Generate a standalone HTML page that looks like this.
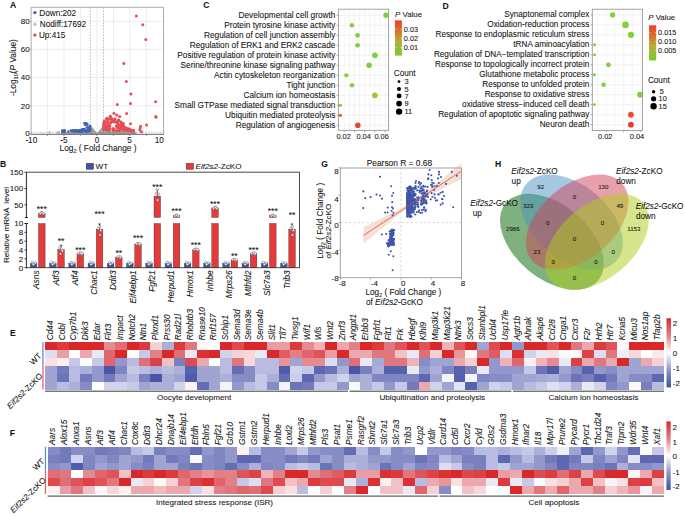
<!DOCTYPE html>
<html><head><meta charset="utf-8"><style>
html,body{margin:0;padding:0;background:#fff;overflow:hidden}
svg{display:block;font-family:"Liberation Sans", sans-serif;}
text{fill:#151515;stroke:#151515;stroke-width:0.08px}
</style></head><body>
<svg width="685" height="516" viewBox="0 0 685 516">
<defs>
<linearGradient id="gC" x1="0" y1="0" x2="0" y2="1"><stop offset="0" stop-color="#ea3f2b"/><stop offset="0.35" stop-color="#d8782e"/><stop offset="0.6" stop-color="#b3b038"/><stop offset="1" stop-color="#79cb2f"/></linearGradient>
<linearGradient id="gD" x1="0" y1="0" x2="0" y2="1"><stop offset="0" stop-color="#ea3f2b"/><stop offset="0.35" stop-color="#d8782e"/><stop offset="0.6" stop-color="#b3b038"/><stop offset="1" stop-color="#79cb2f"/></linearGradient>
<linearGradient id="gH" x1="0" y1="0" x2="0" y2="1"><stop offset="0" stop-color="#da2828"/><stop offset="0.25" stop-color="#e28088"/><stop offset="0.5" stop-color="#ffffff"/><stop offset="0.75" stop-color="#8e94ca"/><stop offset="1" stop-color="#3e50a6"/></linearGradient>
</defs>
<rect width="685" height="516" fill="#fff"/>
<text x="13.2" y="8" font-size="8.6" text-anchor="middle" font-weight="bold" >A</text>
<line x1="47.4" y1="7.3" x2="47.4" y2="134.3" stroke="#e0e0e0" stroke-width="0.6" />
<line x1="63.9" y1="7.3" x2="63.9" y2="134.3" stroke="#e0e0e0" stroke-width="0.6" />
<line x1="80.4" y1="7.3" x2="80.4" y2="134.3" stroke="#e0e0e0" stroke-width="0.6" />
<line x1="96.9" y1="7.3" x2="96.9" y2="134.3" stroke="#e0e0e0" stroke-width="0.6" />
<line x1="113.4" y1="7.3" x2="113.4" y2="134.3" stroke="#e0e0e0" stroke-width="0.6" />
<line x1="129.9" y1="7.3" x2="129.9" y2="134.3" stroke="#e0e0e0" stroke-width="0.6" />
<line x1="146.4" y1="7.3" x2="146.4" y2="134.3" stroke="#e0e0e0" stroke-width="0.6" />
<line x1="31.1" y1="105.75" x2="163.6" y2="105.75" stroke="#e0e0e0" stroke-width="0.6" />
<line x1="31.1" y1="77.6" x2="163.6" y2="77.6" stroke="#e0e0e0" stroke-width="0.6" />
<line x1="31.1" y1="49.45" x2="163.6" y2="49.45" stroke="#e0e0e0" stroke-width="0.6" />
<line x1="31.1" y1="21.3" x2="163.6" y2="21.3" stroke="#e0e0e0" stroke-width="0.6" />
<polygon points="60.5,134.2 61,132.5 75,132.0 84,131.0 88,128.4 91.2,125.8 97,133.0 103.3,125.8 106,128.6 110,130.5 125,130.9 134,131.1 136,132.3 137,134.2" fill="#a3a3a3"/>
<g fill="#c4c4c4"><circle cx="49.5" cy="132.4" r="1.2"/><circle cx="58.2" cy="132.4" r="1.2"/><circle cx="57.2" cy="132.6" r="1.2"/><circle cx="59.2" cy="132.5" r="1.2"/></g>
<line x1="90.3" y1="7.3" x2="90.3" y2="134.3" stroke="#777" stroke-width="0.5" stroke-dasharray="1.6,1.4"/>
<line x1="103.5" y1="7.3" x2="103.5" y2="134.3" stroke="#777" stroke-width="0.5" stroke-dasharray="1.6,1.4"/>
<line x1="31.1" y1="132.4" x2="163.6" y2="132.4" stroke="#888" stroke-width="0.5" stroke-dasharray="1.6,1.4"/>
<g fill="#4264b5"><circle cx="62.5" cy="131.5" r="1.3"/><circle cx="63.5" cy="130.8" r="1.3"/><circle cx="63.0" cy="132.0" r="1.3"/><circle cx="64.3" cy="131.8" r="1.3"/><circle cx="62.2" cy="130.6" r="1.3"/><circle cx="72.9" cy="131.2" r="1.3"/><circle cx="75.2" cy="131.5" r="1.3"/><circle cx="74.5" cy="131.5" r="1.3"/><circle cx="64.9" cy="130.9" r="1.3"/><circle cx="77.2" cy="131.1" r="1.3"/><circle cx="76.7" cy="130.4" r="1.3"/><circle cx="70.8" cy="130.5" r="1.3"/><circle cx="71.8" cy="131.0" r="1.3"/><circle cx="64.7" cy="130.5" r="1.3"/><circle cx="68.3" cy="131.5" r="1.3"/><circle cx="74.8" cy="130.4" r="1.3"/><circle cx="75.3" cy="130.4" r="1.3"/><circle cx="72.8" cy="130.4" r="1.3"/><circle cx="64.5" cy="131.4" r="1.3"/><circle cx="80.6" cy="130.2" r="1.3"/><circle cx="90.1" cy="130.8" r="1.3"/><circle cx="81.6" cy="131.4" r="1.3"/><circle cx="84.6" cy="130.4" r="1.3"/><circle cx="80.5" cy="131.4" r="1.3"/><circle cx="86.5" cy="131.4" r="1.3"/><circle cx="89.0" cy="127.8" r="1.3"/><circle cx="82.4" cy="129.5" r="1.3"/><circle cx="79.8" cy="130.3" r="1.3"/><circle cx="81.7" cy="130.7" r="1.3"/><circle cx="78.0" cy="131.3" r="1.3"/><circle cx="82.2" cy="129.9" r="1.3"/><circle cx="88.1" cy="129.0" r="1.3"/><circle cx="81.9" cy="130.4" r="1.3"/><circle cx="86.7" cy="127.5" r="1.3"/><circle cx="90.0" cy="125.9" r="1.3"/><circle cx="87.2" cy="130.8" r="1.3"/><circle cx="78.2" cy="131.4" r="1.3"/><circle cx="82.5" cy="130.5" r="1.3"/><circle cx="78.1" cy="131.0" r="1.3"/><circle cx="80.2" cy="131.4" r="1.3"/><circle cx="80.4" cy="131.1" r="1.3"/><circle cx="89.4" cy="131.2" r="1.3"/><circle cx="82.2" cy="130.0" r="1.3"/><circle cx="84.5" cy="130.8" r="1.3"/><circle cx="79.3" cy="131.2" r="1.3"/><circle cx="87.8" cy="130.8" r="1.3"/><circle cx="78.5" cy="131.5" r="1.3"/><circle cx="79.1" cy="130.8" r="1.3"/><circle cx="85.5" cy="131.2" r="1.3"/><circle cx="82.2" cy="131.3" r="1.3"/><circle cx="84.7" cy="129.2" r="1.3"/><circle cx="81.9" cy="129.7" r="1.3"/><circle cx="79.0" cy="130.7" r="1.3"/><circle cx="86.5" cy="131.5" r="1.3"/><circle cx="80.0" cy="130.2" r="1.3"/><circle cx="90.1" cy="128.8" r="1.3"/><circle cx="83.0" cy="129.5" r="1.3"/><circle cx="85.3" cy="130.9" r="1.3"/><circle cx="83.6" cy="129.8" r="1.3"/><circle cx="78.7" cy="131.4" r="1.3"/><circle cx="78.4" cy="131.2" r="1.3"/><circle cx="88.3" cy="127.2" r="1.3"/><circle cx="87.0" cy="131.3" r="1.3"/><circle cx="85.8" cy="130.7" r="1.3"/><circle cx="79.3" cy="130.9" r="1.3"/><circle cx="79.8" cy="131.3" r="1.3"/><circle cx="81.6" cy="130.4" r="1.3"/><circle cx="90.3" cy="130.6" r="1.3"/><circle cx="90.0" cy="128.4" r="1.3"/><circle cx="84.0" cy="130.7" r="1.3"/><circle cx="83.9" cy="129.3" r="1.3"/><circle cx="83.0" cy="129.2" r="1.3"/><circle cx="82.6" cy="131.5" r="1.3"/><circle cx="89.8" cy="129.4" r="1.3"/><circle cx="86.0" cy="123.3" r="1.3"/><circle cx="84.4" cy="123.2" r="1.3"/><circle cx="87.1" cy="124.5" r="1.3"/><circle cx="85.4" cy="124.3" r="1.3"/><circle cx="87.1" cy="124.1" r="1.3"/><circle cx="86.7" cy="124.3" r="1.3"/><circle cx="85.5" cy="124.1" r="1.3"/><circle cx="85.1" cy="123.7" r="1.3"/><circle cx="87.1" cy="124.1" r="1.3"/><circle cx="85.2" cy="124.7" r="1.3"/></g>
<g fill="#e44f58"><circle cx="119.6" cy="126.8" r="1.5"/><circle cx="103.8" cy="126.7" r="1.5"/><circle cx="107.6" cy="126.6" r="1.5"/><circle cx="113.3" cy="128.5" r="1.5"/><circle cx="119.5" cy="129.0" r="1.5"/><circle cx="110.0" cy="126.0" r="1.5"/><circle cx="122.9" cy="130.0" r="1.5"/><circle cx="110.1" cy="128.9" r="1.5"/><circle cx="128.3" cy="130.4" r="1.5"/><circle cx="132.9" cy="131.1" r="1.5"/><circle cx="105.8" cy="129.2" r="1.5"/><circle cx="131.2" cy="130.4" r="1.5"/><circle cx="121.2" cy="128.7" r="1.5"/><circle cx="122.6" cy="125.3" r="1.5"/><circle cx="124.6" cy="129.1" r="1.5"/><circle cx="120.2" cy="125.4" r="1.5"/><circle cx="118.7" cy="128.6" r="1.5"/><circle cx="119.1" cy="128.1" r="1.5"/><circle cx="103.9" cy="122.7" r="1.5"/><circle cx="106.9" cy="127.0" r="1.5"/><circle cx="118.9" cy="120.4" r="1.5"/><circle cx="113.6" cy="119.8" r="1.5"/><circle cx="104.2" cy="122.2" r="1.5"/><circle cx="109.2" cy="119.3" r="1.5"/><circle cx="106.4" cy="118.7" r="1.5"/><circle cx="118.3" cy="126.3" r="1.5"/><circle cx="107.3" cy="129.9" r="1.5"/><circle cx="103.8" cy="125.3" r="1.5"/><circle cx="108.2" cy="122.8" r="1.5"/><circle cx="105.0" cy="129.3" r="1.5"/><circle cx="110.7" cy="116.8" r="1.5"/><circle cx="118.3" cy="120.4" r="1.5"/><circle cx="116.0" cy="122.1" r="1.5"/><circle cx="117.2" cy="130.7" r="1.5"/><circle cx="126.2" cy="129.1" r="1.5"/><circle cx="125.9" cy="129.9" r="1.5"/><circle cx="110.6" cy="118.4" r="1.5"/><circle cx="117.7" cy="125.7" r="1.5"/><circle cx="132.1" cy="131.2" r="1.5"/><circle cx="118.1" cy="123.4" r="1.5"/><circle cx="129.3" cy="129.0" r="1.5"/><circle cx="104.9" cy="126.3" r="1.5"/><circle cx="118.4" cy="121.0" r="1.5"/><circle cx="118.9" cy="130.0" r="1.5"/><circle cx="110.8" cy="122.7" r="1.5"/><circle cx="107.1" cy="121.6" r="1.5"/><circle cx="132.8" cy="130.4" r="1.5"/><circle cx="132.3" cy="131.1" r="1.5"/><circle cx="117.7" cy="121.9" r="1.5"/><circle cx="133.1" cy="130.6" r="1.5"/><circle cx="111.9" cy="121.0" r="1.5"/><circle cx="133.3" cy="130.6" r="1.5"/><circle cx="108.4" cy="123.7" r="1.5"/><circle cx="105.1" cy="126.8" r="1.5"/><circle cx="112.7" cy="120.7" r="1.5"/><circle cx="124.7" cy="130.3" r="1.5"/><circle cx="103.8" cy="126.5" r="1.5"/><circle cx="108.1" cy="130.3" r="1.5"/><circle cx="124.7" cy="127.4" r="1.5"/><circle cx="108.0" cy="119.2" r="1.5"/><circle cx="133.5" cy="130.4" r="1.5"/><circle cx="118.1" cy="124.9" r="1.5"/><circle cx="119.4" cy="126.9" r="1.5"/><circle cx="123.2" cy="125.4" r="1.5"/><circle cx="123.8" cy="127.1" r="1.5"/><circle cx="115.6" cy="122.0" r="1.5"/><circle cx="108.7" cy="124.4" r="1.5"/><circle cx="113.4" cy="121.8" r="1.5"/><circle cx="123.2" cy="128.5" r="1.5"/><circle cx="104.0" cy="123.6" r="1.5"/><circle cx="113.1" cy="130.0" r="1.5"/><circle cx="129.1" cy="130.1" r="1.5"/><circle cx="103.9" cy="129.0" r="1.5"/><circle cx="121.8" cy="128.2" r="1.5"/><circle cx="113.9" cy="129.9" r="1.5"/><circle cx="111.0" cy="122.1" r="1.5"/><circle cx="127.5" cy="128.8" r="1.5"/><circle cx="108.7" cy="128.8" r="1.5"/><circle cx="104.3" cy="129.5" r="1.5"/><circle cx="121.3" cy="126.3" r="1.5"/><circle cx="108.4" cy="128.1" r="1.5"/><circle cx="130.0" cy="129.6" r="1.5"/><circle cx="114.4" cy="121.5" r="1.5"/><circle cx="105.6" cy="126.1" r="1.5"/><circle cx="125.9" cy="127.7" r="1.5"/><circle cx="107.1" cy="128.8" r="1.5"/><circle cx="125.1" cy="129.6" r="1.5"/><circle cx="103.9" cy="128.4" r="1.5"/><circle cx="133.0" cy="131.2" r="1.5"/><circle cx="121.5" cy="123.2" r="1.5"/><circle cx="127.1" cy="128.7" r="1.5"/><circle cx="119.5" cy="130.7" r="1.5"/><circle cx="122.0" cy="124.4" r="1.5"/><circle cx="108.6" cy="130.0" r="1.5"/><circle cx="105.5" cy="126.5" r="1.5"/><circle cx="111.8" cy="118.7" r="1.5"/><circle cx="118.6" cy="120.1" r="1.5"/><circle cx="104.9" cy="124.2" r="1.5"/><circle cx="104.4" cy="121.1" r="1.5"/><circle cx="117.0" cy="127.8" r="1.5"/><circle cx="128.7" cy="129.0" r="1.5"/><circle cx="112.4" cy="121.0" r="1.5"/><circle cx="117.8" cy="124.9" r="1.5"/><circle cx="131.3" cy="130.2" r="1.5"/><circle cx="104.2" cy="128.0" r="1.5"/><circle cx="105.6" cy="126.7" r="1.5"/><circle cx="114.7" cy="129.9" r="1.5"/><circle cx="116.3" cy="126.1" r="1.5"/><circle cx="107.9" cy="124.9" r="1.5"/><circle cx="107.7" cy="127.7" r="1.5"/><circle cx="115.0" cy="118.9" r="1.5"/><circle cx="107.2" cy="122.6" r="1.5"/><circle cx="122.9" cy="125.6" r="1.5"/><circle cx="122.0" cy="128.5" r="1.5"/><circle cx="104.6" cy="127.6" r="1.5"/><circle cx="104.6" cy="121.6" r="1.5"/><circle cx="117.6" cy="121.6" r="1.5"/><circle cx="128.6" cy="129.9" r="1.5"/><circle cx="109.4" cy="128.2" r="1.5"/><circle cx="104.0" cy="128.4" r="1.5"/><circle cx="117.3" cy="104.5" r="1.5"/><circle cx="130.5" cy="103.6" r="1.5"/><circle cx="126.6" cy="113.5" r="1.5"/><circle cx="113.9" cy="113.3" r="1.5"/><circle cx="110.2" cy="116.2" r="1.5"/><circle cx="116.6" cy="115.0" r="1.5"/><circle cx="119.7" cy="116.4" r="1.5"/><circle cx="107.3" cy="118.2" r="1.5"/><circle cx="130.5" cy="123.7" r="1.5"/><circle cx="140.5" cy="126.3" r="1.5"/><circle cx="146.6" cy="125.0" r="1.5"/><circle cx="139.8" cy="129.9" r="1.5"/><circle cx="141.6" cy="131.8" r="1.5"/><circle cx="140.2" cy="128.0" r="1.5"/><circle cx="123.4" cy="123.4" r="1.5"/><circle cx="121.2" cy="121.9" r="1.5"/><circle cx="136.4" cy="15.9" r="1.5"/><circle cx="142.8" cy="24.7" r="1.5"/><circle cx="145.8" cy="39.6" r="1.5"/><circle cx="123.8" cy="63.5" r="1.5"/><circle cx="126.3" cy="81.5" r="1.5"/><circle cx="130.9" cy="94.0" r="1.5"/><circle cx="155.6" cy="101.8" r="1.5"/><circle cx="155.9" cy="117.3" r="1.5"/><circle cx="155.9" cy="116.6" r="1.5"/></g>
<line x1="31.1" y1="7.3" x2="163.6" y2="7.3" stroke="#9c9c9c" stroke-width="0.85" />
<line x1="163.6" y1="7.3" x2="163.6" y2="134.3" stroke="#9c9c9c" stroke-width="0.85" />
<line x1="31.1" y1="7.3" x2="31.1" y2="134.3" stroke="#a0a0a0" stroke-width="0.9" />
<line x1="30.6" y1="134.3" x2="164" y2="134.3" stroke="#555" stroke-width="0.9" />
<text x="29.7" y="135.78" font-size="8.0" text-anchor="end" >0</text>
<line x1="29.5" y1="133.9" x2="31.1" y2="133.9" stroke="#999" stroke-width="0.7" />
<text x="29.7" y="108.78" font-size="8.0" text-anchor="end" >20</text>
<line x1="29.5" y1="105.75" x2="31.1" y2="105.75" stroke="#999" stroke-width="0.7" />
<text x="29.7" y="80.28" font-size="8.0" text-anchor="end" >40</text>
<line x1="29.5" y1="77.6" x2="31.1" y2="77.6" stroke="#999" stroke-width="0.7" />
<text x="29.7" y="52.28" font-size="8.0" text-anchor="end" >60</text>
<line x1="29.5" y1="49.45" x2="31.1" y2="49.45" stroke="#999" stroke-width="0.7" />
<text x="29.7" y="24.38" font-size="8.0" text-anchor="end" >80</text>
<line x1="29.5" y1="21.3" x2="31.1" y2="21.3" stroke="#999" stroke-width="0.7" />
<text x="31.3" y="142.75" font-size="8.2" text-anchor="middle" >-10</text>
<text x="64" y="142.75" font-size="8.2" text-anchor="middle" >-5</text>
<text x="97" y="142.75" font-size="8.2" text-anchor="middle" >0</text>
<text x="129.6" y="142.75" font-size="8.2" text-anchor="middle" >5</text>
<text x="159.3" y="142.75" font-size="8.2" text-anchor="middle" >10</text>
<line x1="47.4" y1="134.3" x2="47.4" y2="135.9" stroke="#666" stroke-width="0.7" />
<line x1="63.9" y1="134.3" x2="63.9" y2="135.9" stroke="#666" stroke-width="0.7" />
<line x1="80.4" y1="134.3" x2="80.4" y2="135.9" stroke="#666" stroke-width="0.7" />
<line x1="96.9" y1="134.3" x2="96.9" y2="135.9" stroke="#666" stroke-width="0.7" />
<line x1="113.4" y1="134.3" x2="113.4" y2="135.9" stroke="#666" stroke-width="0.7" />
<line x1="129.9" y1="134.3" x2="129.9" y2="135.9" stroke="#666" stroke-width="0.7" />
<line x1="146.4" y1="134.3" x2="146.4" y2="135.9" stroke="#666" stroke-width="0.7" />
<circle cx="34.9" cy="12.6" r="1.7" fill="#4264b5" />
<text x="39.3" y="15.55" font-size="8.2" >Down:202</text>
<circle cx="34.9" cy="24.2" r="1.7" fill="#c4c4c4" />
<text x="39.8" y="27.15" font-size="8.2" >Nodiff:17692</text>
<circle cx="34.9" cy="35.1" r="1.7" fill="#e44f58" />
<text x="38.9" y="38.45" font-size="8.2" >Up:415</text>
<text x="98.0" y="151.1" font-size="8.3" text-anchor="middle">Log<tspan font-size="5.6" dy="1.8">2</tspan><tspan dy="-1.8"> ( Fold Change )</tspan></text>
<text transform="translate(16.4 67.6) rotate(-90)" font-size="8.3" text-anchor="middle">-Log<tspan font-size="5.6" dy="1.8">10</tspan><tspan dy="-1.8">(</tspan><tspan font-style="italic">P</tspan> Value)</text>
<text x="3.2" y="166.7" font-size="8.6" text-anchor="middle" font-weight="bold" >B</text>
<rect x="86.2" y="163.2" width="7.4" height="6.2" fill="#3f52a8" stroke="#333" stroke-width="0.4"/>
<text x="95.6" y="169.32" font-size="8.1" >WT</text>
<rect x="186.2" y="163.2" width="7.4" height="6.2" fill="#e33a3a" stroke="#333" stroke-width="0.4"/>
<text x="195.6" y="169.3" font-size="8.1"><tspan font-style="italic">Eif2s2</tspan>-ZcKO</text>
<rect x="30.3" y="263.5" width="6.6" height="4.2" fill="#3f52a8" stroke="#2a2a2a" stroke-width="0.35"/>
<line x1="33.6" y1="263.5" x2="33.6" y2="262.3" stroke="#222" stroke-width="0.6" />
<circle cx="32.4" cy="262.4" r="1.15" fill="#fff" stroke="#555" stroke-width="0.45"/>
<circle cx="34.4" cy="263.72" r="1.15" fill="#fff" stroke="#555" stroke-width="0.45"/>
<circle cx="35.4" cy="262.84" r="1.15" fill="#fff" stroke="#555" stroke-width="0.45"/>
<circle cx="33.3" cy="264.38" r="1.15" fill="#fff" stroke="#555" stroke-width="0.45"/>
<rect x="38.5" y="223.5" width="6.6" height="44.2" fill="#e33a3a" stroke="#2a2a2a" stroke-width="0.35"/>
<rect x="38.5" y="213.3" width="6.6" height="4.2" fill="#e33a3a" stroke="#2a2a2a" stroke-width="0.35"/>
<line x1="41.8" y1="213.3" x2="41.8" y2="211.9" stroke="#111" stroke-width="0.7" />
<line x1="40.5" y1="211.9" x2="43.1" y2="211.9" stroke="#111" stroke-width="0.7" />
<circle cx="40.3" cy="213.5" r="1.15" fill="#fff" stroke="#555" stroke-width="0.45"/>
<circle cx="43.1" cy="213.9" r="1.15" fill="#fff" stroke="#555" stroke-width="0.45"/>
<circle cx="42" cy="212.7" r="1.15" fill="#fff" stroke="#555" stroke-width="0.45"/>
<circle cx="43.7" cy="213.6" r="1.15" fill="#fff" stroke="#555" stroke-width="0.45"/>
<text x="41.8" y="211.6" font-size="8.6" text-anchor="middle" >***</text>
<text x="39.4" y="270.4" font-size="8.4" text-anchor="end" font-style="italic" transform="rotate(-90 39.4 270.4)" >Asns</text>
<rect x="49.55" y="263.5" width="6.6" height="4.2" fill="#3f52a8" stroke="#2a2a2a" stroke-width="0.35"/>
<line x1="52.85" y1="263.5" x2="52.85" y2="262.3" stroke="#222" stroke-width="0.6" />
<circle cx="51.65" cy="262.4" r="1.15" fill="#fff" stroke="#555" stroke-width="0.45"/>
<circle cx="53.65" cy="263.72" r="1.15" fill="#fff" stroke="#555" stroke-width="0.45"/>
<circle cx="54.65" cy="262.84" r="1.15" fill="#fff" stroke="#555" stroke-width="0.45"/>
<circle cx="52.55" cy="264.38" r="1.15" fill="#fff" stroke="#555" stroke-width="0.45"/>
<rect x="57.75" y="249.58" width="6.6" height="18.12" fill="#e33a3a" stroke="#2a2a2a" stroke-width="0.35"/>
<line x1="61.05" y1="249.58" x2="61.05" y2="245.28" stroke="#111" stroke-width="0.7" />
<line x1="59.75" y1="245.28" x2="62.35" y2="245.28" stroke="#111" stroke-width="0.7" />
<circle cx="59.75" cy="247.78" r="1.15" fill="#fff" stroke="#555" stroke-width="0.45"/>
<circle cx="62.55" cy="250.98" r="1.15" fill="#fff" stroke="#555" stroke-width="0.45"/>
<circle cx="61.35" cy="249.08" r="1.15" fill="#fff" stroke="#555" stroke-width="0.45"/>
<circle cx="60.55" cy="253.88" r="1.15" fill="#fff" stroke="#555" stroke-width="0.45"/>
<text x="61.05" y="243.5" font-size="8.6" text-anchor="middle" >**</text>
<text x="58.65" y="270.4" font-size="8.4" text-anchor="end" font-style="italic" transform="rotate(-90 58.65 270.4)" >Atf3</text>
<rect x="68.8" y="263.5" width="6.6" height="4.2" fill="#3f52a8" stroke="#2a2a2a" stroke-width="0.35"/>
<line x1="72.1" y1="263.5" x2="72.1" y2="262.3" stroke="#222" stroke-width="0.6" />
<circle cx="70.9" cy="262.4" r="1.15" fill="#fff" stroke="#555" stroke-width="0.45"/>
<circle cx="72.9" cy="263.72" r="1.15" fill="#fff" stroke="#555" stroke-width="0.45"/>
<circle cx="73.9" cy="262.84" r="1.15" fill="#fff" stroke="#555" stroke-width="0.45"/>
<circle cx="71.8" cy="264.38" r="1.15" fill="#fff" stroke="#555" stroke-width="0.45"/>
<rect x="77" y="253.82" width="6.6" height="13.88" fill="#e33a3a" stroke="#2a2a2a" stroke-width="0.35"/>
<line x1="80.3" y1="253.82" x2="80.3" y2="252.32" stroke="#111" stroke-width="0.7" />
<line x1="79" y1="252.32" x2="81.6" y2="252.32" stroke="#111" stroke-width="0.7" />
<circle cx="78.8" cy="253.52" r="1.15" fill="#fff" stroke="#555" stroke-width="0.45"/>
<circle cx="81.6" cy="254.22" r="1.15" fill="#fff" stroke="#555" stroke-width="0.45"/>
<circle cx="80.5" cy="253.02" r="1.15" fill="#fff" stroke="#555" stroke-width="0.45"/>
<circle cx="82.2" cy="253.42" r="1.15" fill="#fff" stroke="#555" stroke-width="0.45"/>
<text x="80.3" y="253.1" font-size="8.6" text-anchor="middle" >***</text>
<text x="77.9" y="270.4" font-size="8.4" text-anchor="end" font-style="italic" transform="rotate(-90 77.9 270.4)" >Atf4</text>
<rect x="88.05" y="263.5" width="6.6" height="4.2" fill="#3f52a8" stroke="#2a2a2a" stroke-width="0.35"/>
<line x1="91.35" y1="263.5" x2="91.35" y2="262.3" stroke="#222" stroke-width="0.6" />
<circle cx="90.15" cy="262.4" r="1.15" fill="#fff" stroke="#555" stroke-width="0.45"/>
<circle cx="92.15" cy="263.72" r="1.15" fill="#fff" stroke="#555" stroke-width="0.45"/>
<circle cx="93.15" cy="262.84" r="1.15" fill="#fff" stroke="#555" stroke-width="0.45"/>
<circle cx="91.05" cy="264.38" r="1.15" fill="#fff" stroke="#555" stroke-width="0.45"/>
<rect x="96.25" y="229.29" width="6.6" height="38.41" fill="#e33a3a" stroke="#2a2a2a" stroke-width="0.35"/>
<line x1="99.55" y1="229.29" x2="99.55" y2="223.99" stroke="#111" stroke-width="0.7" />
<line x1="98.25" y1="223.99" x2="100.85" y2="223.99" stroke="#111" stroke-width="0.7" />
<circle cx="98.35" cy="228.39" r="1.15" fill="#fff" stroke="#555" stroke-width="0.45"/>
<circle cx="100.75" cy="230.39" r="1.15" fill="#fff" stroke="#555" stroke-width="0.45"/>
<circle cx="99.85" cy="226.79" r="1.15" fill="#fff" stroke="#555" stroke-width="0.45"/>
<circle cx="100.05" cy="234.89" r="1.15" fill="#fff" stroke="#555" stroke-width="0.45"/>
<text x="99.55" y="216.9" font-size="8.6" text-anchor="middle" >***</text>
<text x="97.15" y="270.4" font-size="8.4" text-anchor="end" font-style="italic" transform="rotate(-90 97.15 270.4)" >Chac1</text>
<rect x="107.3" y="263.5" width="6.6" height="4.2" fill="#3f52a8" stroke="#2a2a2a" stroke-width="0.35"/>
<line x1="110.6" y1="263.5" x2="110.6" y2="262.3" stroke="#222" stroke-width="0.6" />
<circle cx="109.4" cy="262.4" r="1.15" fill="#fff" stroke="#555" stroke-width="0.45"/>
<circle cx="111.4" cy="263.72" r="1.15" fill="#fff" stroke="#555" stroke-width="0.45"/>
<circle cx="112.4" cy="262.84" r="1.15" fill="#fff" stroke="#555" stroke-width="0.45"/>
<circle cx="110.3" cy="264.38" r="1.15" fill="#fff" stroke="#555" stroke-width="0.45"/>
<rect x="115.5" y="257.4" width="6.6" height="10.3" fill="#e33a3a" stroke="#2a2a2a" stroke-width="0.35"/>
<line x1="118.8" y1="257.4" x2="118.8" y2="256.6" stroke="#111" stroke-width="0.7" />
<line x1="117.5" y1="256.6" x2="120.1" y2="256.6" stroke="#111" stroke-width="0.7" />
<circle cx="117.3" cy="257.1" r="1.15" fill="#fff" stroke="#555" stroke-width="0.45"/>
<circle cx="120.1" cy="257.8" r="1.15" fill="#fff" stroke="#555" stroke-width="0.45"/>
<circle cx="119" cy="256.6" r="1.15" fill="#fff" stroke="#555" stroke-width="0.45"/>
<circle cx="120.7" cy="257" r="1.15" fill="#fff" stroke="#555" stroke-width="0.45"/>
<text x="118.8" y="256.3" font-size="8.6" text-anchor="middle" >**</text>
<text x="116.4" y="270.4" font-size="8.4" text-anchor="end" font-style="italic" transform="rotate(-90 116.4 270.4)" >Ddit3</text>
<rect x="126.55" y="263.5" width="6.6" height="4.2" fill="#3f52a8" stroke="#2a2a2a" stroke-width="0.35"/>
<line x1="129.85" y1="263.5" x2="129.85" y2="262.3" stroke="#222" stroke-width="0.6" />
<circle cx="128.65" cy="262.4" r="1.15" fill="#fff" stroke="#555" stroke-width="0.45"/>
<circle cx="130.65" cy="263.72" r="1.15" fill="#fff" stroke="#555" stroke-width="0.45"/>
<circle cx="131.65" cy="262.84" r="1.15" fill="#fff" stroke="#555" stroke-width="0.45"/>
<circle cx="129.55" cy="264.38" r="1.15" fill="#fff" stroke="#555" stroke-width="0.45"/>
<rect x="134.75" y="244.27" width="6.6" height="23.43" fill="#e33a3a" stroke="#2a2a2a" stroke-width="0.35"/>
<line x1="138.05" y1="244.27" x2="138.05" y2="242.77" stroke="#111" stroke-width="0.7" />
<line x1="136.75" y1="242.77" x2="139.35" y2="242.77" stroke="#111" stroke-width="0.7" />
<circle cx="136.55" cy="243.97" r="1.15" fill="#fff" stroke="#555" stroke-width="0.45"/>
<circle cx="139.35" cy="244.67" r="1.15" fill="#fff" stroke="#555" stroke-width="0.45"/>
<circle cx="138.25" cy="243.47" r="1.15" fill="#fff" stroke="#555" stroke-width="0.45"/>
<circle cx="139.95" cy="243.87" r="1.15" fill="#fff" stroke="#555" stroke-width="0.45"/>
<text x="138.05" y="241.4" font-size="8.6" text-anchor="middle" >***</text>
<text x="135.65" y="270.4" font-size="8.4" text-anchor="end" font-style="italic" transform="rotate(-90 135.65 270.4)" >Eif4ebp1</text>
<rect x="145.8" y="263.5" width="6.6" height="4.2" fill="#3f52a8" stroke="#2a2a2a" stroke-width="0.35"/>
<line x1="149.1" y1="263.5" x2="149.1" y2="262.3" stroke="#222" stroke-width="0.6" />
<circle cx="147.9" cy="262.4" r="1.15" fill="#fff" stroke="#555" stroke-width="0.45"/>
<circle cx="149.9" cy="263.72" r="1.15" fill="#fff" stroke="#555" stroke-width="0.45"/>
<circle cx="150.9" cy="262.84" r="1.15" fill="#fff" stroke="#555" stroke-width="0.45"/>
<circle cx="148.8" cy="264.38" r="1.15" fill="#fff" stroke="#555" stroke-width="0.45"/>
<rect x="154" y="223.5" width="6.6" height="44.2" fill="#e33a3a" stroke="#2a2a2a" stroke-width="0.35"/>
<rect x="154" y="196.21" width="6.6" height="21.29" fill="#e33a3a" stroke="#2a2a2a" stroke-width="0.35"/>
<line x1="157.3" y1="196.21" x2="157.3" y2="189.81" stroke="#111" stroke-width="0.7" />
<line x1="156" y1="189.81" x2="158.6" y2="189.81" stroke="#111" stroke-width="0.7" />
<circle cx="156.1" cy="193.71" r="1.15" fill="#fff" stroke="#555" stroke-width="0.45"/>
<circle cx="158.8" cy="194.21" r="1.15" fill="#fff" stroke="#555" stroke-width="0.45"/>
<circle cx="157.6" cy="200.21" r="1.15" fill="#fff" stroke="#555" stroke-width="0.45"/>
<circle cx="157" cy="189.71" r="1.15" fill="#fff" stroke="#555" stroke-width="0.45"/>
<text x="157.3" y="189.7" font-size="8.6" text-anchor="middle" >***</text>
<text x="154.9" y="270.4" font-size="8.4" text-anchor="end" font-style="italic" transform="rotate(-90 154.9 270.4)" >Fgf21</text>
<rect x="165.05" y="263.5" width="6.6" height="4.2" fill="#3f52a8" stroke="#2a2a2a" stroke-width="0.35"/>
<line x1="168.35" y1="263.5" x2="168.35" y2="262.3" stroke="#222" stroke-width="0.6" />
<circle cx="167.15" cy="262.4" r="1.15" fill="#fff" stroke="#555" stroke-width="0.45"/>
<circle cx="169.15" cy="263.72" r="1.15" fill="#fff" stroke="#555" stroke-width="0.45"/>
<circle cx="170.15" cy="262.84" r="1.15" fill="#fff" stroke="#555" stroke-width="0.45"/>
<circle cx="168.05" cy="264.38" r="1.15" fill="#fff" stroke="#555" stroke-width="0.45"/>
<rect x="173.25" y="223.5" width="6.6" height="44.2" fill="#e33a3a" stroke="#2a2a2a" stroke-width="0.35"/>
<rect x="173.25" y="215.81" width="6.6" height="1.69" fill="#e33a3a" stroke="#2a2a2a" stroke-width="0.35"/>
<line x1="176.55" y1="215.81" x2="176.55" y2="214.41" stroke="#111" stroke-width="0.7" />
<line x1="175.25" y1="214.41" x2="177.85" y2="214.41" stroke="#111" stroke-width="0.7" />
<circle cx="175.05" cy="216.01" r="1.15" fill="#fff" stroke="#555" stroke-width="0.45"/>
<circle cx="177.85" cy="216.41" r="1.15" fill="#fff" stroke="#555" stroke-width="0.45"/>
<circle cx="176.75" cy="215.21" r="1.15" fill="#fff" stroke="#555" stroke-width="0.45"/>
<circle cx="178.45" cy="216.11" r="1.15" fill="#fff" stroke="#555" stroke-width="0.45"/>
<text x="176.55" y="214.1" font-size="8.6" text-anchor="middle" >***</text>
<text x="174.15" y="270.4" font-size="8.4" text-anchor="end" font-style="italic" transform="rotate(-90 174.15 270.4)" >Herpud1</text>
<rect x="184.3" y="263.5" width="6.6" height="4.2" fill="#3f52a8" stroke="#2a2a2a" stroke-width="0.35"/>
<line x1="187.6" y1="263.5" x2="187.6" y2="262.3" stroke="#222" stroke-width="0.6" />
<circle cx="186.4" cy="262.4" r="1.15" fill="#fff" stroke="#555" stroke-width="0.45"/>
<circle cx="188.4" cy="263.72" r="1.15" fill="#fff" stroke="#555" stroke-width="0.45"/>
<circle cx="189.4" cy="262.84" r="1.15" fill="#fff" stroke="#555" stroke-width="0.45"/>
<circle cx="187.3" cy="264.38" r="1.15" fill="#fff" stroke="#555" stroke-width="0.45"/>
<rect x="192.5" y="249.89" width="6.6" height="17.81" fill="#e33a3a" stroke="#2a2a2a" stroke-width="0.35"/>
<line x1="195.8" y1="249.89" x2="195.8" y2="248.39" stroke="#111" stroke-width="0.7" />
<line x1="194.5" y1="248.39" x2="197.1" y2="248.39" stroke="#111" stroke-width="0.7" />
<circle cx="194.3" cy="249.59" r="1.15" fill="#fff" stroke="#555" stroke-width="0.45"/>
<circle cx="197.1" cy="250.29" r="1.15" fill="#fff" stroke="#555" stroke-width="0.45"/>
<circle cx="196" cy="249.09" r="1.15" fill="#fff" stroke="#555" stroke-width="0.45"/>
<circle cx="197.7" cy="249.49" r="1.15" fill="#fff" stroke="#555" stroke-width="0.45"/>
<text x="195.8" y="248.2" font-size="8.6" text-anchor="middle" >***</text>
<text x="193.4" y="270.4" font-size="8.4" text-anchor="end" font-style="italic" transform="rotate(-90 193.4 270.4)" >Hmox1</text>
<rect x="203.55" y="263.5" width="6.6" height="4.2" fill="#3f52a8" stroke="#2a2a2a" stroke-width="0.35"/>
<line x1="206.85" y1="263.5" x2="206.85" y2="262.3" stroke="#222" stroke-width="0.6" />
<circle cx="205.65" cy="262.4" r="1.15" fill="#fff" stroke="#555" stroke-width="0.45"/>
<circle cx="207.65" cy="263.72" r="1.15" fill="#fff" stroke="#555" stroke-width="0.45"/>
<circle cx="208.65" cy="262.84" r="1.15" fill="#fff" stroke="#555" stroke-width="0.45"/>
<circle cx="206.55" cy="264.38" r="1.15" fill="#fff" stroke="#555" stroke-width="0.45"/>
<rect x="211.75" y="223.5" width="6.6" height="44.2" fill="#e33a3a" stroke="#2a2a2a" stroke-width="0.35"/>
<rect x="211.75" y="208.01" width="6.6" height="9.49" fill="#e33a3a" stroke="#2a2a2a" stroke-width="0.35"/>
<line x1="215.05" y1="208.01" x2="215.05" y2="206.61" stroke="#111" stroke-width="0.7" />
<line x1="213.75" y1="206.61" x2="216.35" y2="206.61" stroke="#111" stroke-width="0.7" />
<circle cx="213.55" cy="208.21" r="1.15" fill="#fff" stroke="#555" stroke-width="0.45"/>
<circle cx="216.35" cy="208.61" r="1.15" fill="#fff" stroke="#555" stroke-width="0.45"/>
<circle cx="215.25" cy="207.41" r="1.15" fill="#fff" stroke="#555" stroke-width="0.45"/>
<circle cx="216.95" cy="208.31" r="1.15" fill="#fff" stroke="#555" stroke-width="0.45"/>
<text x="215.05" y="206.5" font-size="8.6" text-anchor="middle" >***</text>
<text x="212.65" y="270.4" font-size="8.4" text-anchor="end" font-style="italic" transform="rotate(-90 212.65 270.4)" >Inhbe</text>
<rect x="222.8" y="263.5" width="6.6" height="4.2" fill="#3f52a8" stroke="#2a2a2a" stroke-width="0.35"/>
<line x1="226.1" y1="263.5" x2="226.1" y2="262.3" stroke="#222" stroke-width="0.6" />
<circle cx="224.9" cy="262.4" r="1.15" fill="#fff" stroke="#555" stroke-width="0.45"/>
<circle cx="226.9" cy="263.72" r="1.15" fill="#fff" stroke="#555" stroke-width="0.45"/>
<circle cx="227.9" cy="262.84" r="1.15" fill="#fff" stroke="#555" stroke-width="0.45"/>
<circle cx="225.8" cy="264.38" r="1.15" fill="#fff" stroke="#555" stroke-width="0.45"/>
<rect x="231" y="260.1" width="6.6" height="7.6" fill="#e33a3a" stroke="#2a2a2a" stroke-width="0.35"/>
<line x1="234.3" y1="260.1" x2="234.3" y2="259.3" stroke="#111" stroke-width="0.7" />
<line x1="233" y1="259.3" x2="235.6" y2="259.3" stroke="#111" stroke-width="0.7" />
<circle cx="232.8" cy="259.8" r="1.15" fill="#fff" stroke="#555" stroke-width="0.45"/>
<circle cx="235.6" cy="260.5" r="1.15" fill="#fff" stroke="#555" stroke-width="0.45"/>
<circle cx="234.5" cy="259.3" r="1.15" fill="#fff" stroke="#555" stroke-width="0.45"/>
<circle cx="236.2" cy="259.7" r="1.15" fill="#fff" stroke="#555" stroke-width="0.45"/>
<text x="234.3" y="259.1" font-size="8.6" text-anchor="middle" >**</text>
<text x="231.9" y="270.4" font-size="8.4" text-anchor="end" font-style="italic" transform="rotate(-90 231.9 270.4)" >Mrps26</text>
<rect x="242.05" y="263.5" width="6.6" height="4.2" fill="#3f52a8" stroke="#2a2a2a" stroke-width="0.35"/>
<line x1="245.35" y1="263.5" x2="245.35" y2="262.3" stroke="#222" stroke-width="0.6" />
<circle cx="244.15" cy="262.4" r="1.15" fill="#fff" stroke="#555" stroke-width="0.45"/>
<circle cx="246.15" cy="263.72" r="1.15" fill="#fff" stroke="#555" stroke-width="0.45"/>
<circle cx="247.15" cy="262.84" r="1.15" fill="#fff" stroke="#555" stroke-width="0.45"/>
<circle cx="245.05" cy="264.38" r="1.15" fill="#fff" stroke="#555" stroke-width="0.45"/>
<rect x="250.25" y="253.82" width="6.6" height="13.88" fill="#e33a3a" stroke="#2a2a2a" stroke-width="0.35"/>
<line x1="253.55" y1="253.82" x2="253.55" y2="252.32" stroke="#111" stroke-width="0.7" />
<line x1="252.25" y1="252.32" x2="254.85" y2="252.32" stroke="#111" stroke-width="0.7" />
<circle cx="252.05" cy="253.52" r="1.15" fill="#fff" stroke="#555" stroke-width="0.45"/>
<circle cx="254.85" cy="254.22" r="1.15" fill="#fff" stroke="#555" stroke-width="0.45"/>
<circle cx="253.75" cy="253.02" r="1.15" fill="#fff" stroke="#555" stroke-width="0.45"/>
<circle cx="255.45" cy="253.42" r="1.15" fill="#fff" stroke="#555" stroke-width="0.45"/>
<text x="253.55" y="253.1" font-size="8.6" text-anchor="middle" >***</text>
<text x="251.15" y="270.4" font-size="8.4" text-anchor="end" font-style="italic" transform="rotate(-90 251.15 270.4)" >Mthfd2</text>
<rect x="261.3" y="263.5" width="6.6" height="4.2" fill="#3f52a8" stroke="#2a2a2a" stroke-width="0.35"/>
<line x1="264.6" y1="263.5" x2="264.6" y2="262.3" stroke="#222" stroke-width="0.6" />
<circle cx="263.4" cy="262.4" r="1.15" fill="#fff" stroke="#555" stroke-width="0.45"/>
<circle cx="265.4" cy="263.72" r="1.15" fill="#fff" stroke="#555" stroke-width="0.45"/>
<circle cx="266.4" cy="262.84" r="1.15" fill="#fff" stroke="#555" stroke-width="0.45"/>
<circle cx="264.3" cy="264.38" r="1.15" fill="#fff" stroke="#555" stroke-width="0.45"/>
<rect x="269.5" y="223.5" width="6.6" height="44.2" fill="#e33a3a" stroke="#2a2a2a" stroke-width="0.35"/>
<rect x="269.5" y="215.81" width="6.6" height="1.69" fill="#e33a3a" stroke="#2a2a2a" stroke-width="0.35"/>
<line x1="272.8" y1="215.81" x2="272.8" y2="214.41" stroke="#111" stroke-width="0.7" />
<line x1="271.5" y1="214.41" x2="274.1" y2="214.41" stroke="#111" stroke-width="0.7" />
<circle cx="271.3" cy="216.01" r="1.15" fill="#fff" stroke="#555" stroke-width="0.45"/>
<circle cx="274.1" cy="216.41" r="1.15" fill="#fff" stroke="#555" stroke-width="0.45"/>
<circle cx="273" cy="215.21" r="1.15" fill="#fff" stroke="#555" stroke-width="0.45"/>
<circle cx="274.7" cy="216.11" r="1.15" fill="#fff" stroke="#555" stroke-width="0.45"/>
<text x="272.8" y="214.3" font-size="8.6" text-anchor="middle" >***</text>
<text x="270.4" y="270.4" font-size="8.4" text-anchor="end" font-style="italic" transform="rotate(-90 270.4 270.4)" >Slc7a3</text>
<rect x="280.55" y="263.5" width="6.6" height="4.2" fill="#3f52a8" stroke="#2a2a2a" stroke-width="0.35"/>
<line x1="283.85" y1="263.5" x2="283.85" y2="262.3" stroke="#222" stroke-width="0.6" />
<circle cx="282.65" cy="262.4" r="1.15" fill="#fff" stroke="#555" stroke-width="0.45"/>
<circle cx="284.65" cy="263.72" r="1.15" fill="#fff" stroke="#555" stroke-width="0.45"/>
<circle cx="285.65" cy="262.84" r="1.15" fill="#fff" stroke="#555" stroke-width="0.45"/>
<circle cx="283.55" cy="264.38" r="1.15" fill="#fff" stroke="#555" stroke-width="0.45"/>
<rect x="288.75" y="229.29" width="6.6" height="38.41" fill="#e33a3a" stroke="#2a2a2a" stroke-width="0.35"/>
<line x1="292.05" y1="229.29" x2="292.05" y2="223.99" stroke="#111" stroke-width="0.7" />
<line x1="290.75" y1="223.99" x2="293.35" y2="223.99" stroke="#111" stroke-width="0.7" />
<circle cx="290.85" cy="228.39" r="1.15" fill="#fff" stroke="#555" stroke-width="0.45"/>
<circle cx="293.25" cy="230.39" r="1.15" fill="#fff" stroke="#555" stroke-width="0.45"/>
<circle cx="292.35" cy="226.79" r="1.15" fill="#fff" stroke="#555" stroke-width="0.45"/>
<circle cx="292.55" cy="234.89" r="1.15" fill="#fff" stroke="#555" stroke-width="0.45"/>
<text x="292.05" y="217.5" font-size="8.6" text-anchor="middle" >**</text>
<text x="289.65" y="270.4" font-size="8.4" text-anchor="end" font-style="italic" transform="rotate(-90 289.65 270.4)" >Trib3</text>
<line x1="26.4" y1="172.2" x2="299.5" y2="172.2" stroke="#333" stroke-width="0.9" />
<line x1="299.5" y1="172.2" x2="299.5" y2="267.7" stroke="#333" stroke-width="0.9" />
<line x1="25.9" y1="267.7" x2="299.95" y2="267.7" stroke="#333" stroke-width="0.9" />
<line x1="26.4" y1="172.2" x2="26.4" y2="217.5" stroke="#111" stroke-width="0.9" />
<line x1="26.4" y1="223.5" x2="26.4" y2="267.7" stroke="#111" stroke-width="0.9" />
<line x1="24.8" y1="217.5" x2="28" y2="217.5" stroke="#111" stroke-width="0.9" />
<line x1="24.8" y1="223.5" x2="28" y2="223.5" stroke="#111" stroke-width="0.9" />
<line x1="24.4" y1="172.2" x2="26.4" y2="172.2" stroke="#111" stroke-width="0.8" />
<text x="23.1" y="175.08" font-size="8" text-anchor="end" >150</text>
<line x1="24.4" y1="188.53" x2="26.4" y2="188.53" stroke="#111" stroke-width="0.8" />
<text x="23.1" y="191.41" font-size="8" text-anchor="end" >100</text>
<line x1="24.4" y1="204.87" x2="26.4" y2="204.87" stroke="#111" stroke-width="0.8" />
<text x="23.1" y="207.75" font-size="8" text-anchor="end" >50</text>
<line x1="24.4" y1="267.7" x2="26.4" y2="267.7" stroke="#111" stroke-width="0.8" />
<text x="23.1" y="270.58" font-size="8" text-anchor="end" >0</text>
<line x1="24.4" y1="258.86" x2="26.4" y2="258.86" stroke="#111" stroke-width="0.8" />
<text x="23.1" y="261.74" font-size="8" text-anchor="end" >2</text>
<line x1="24.4" y1="250.02" x2="26.4" y2="250.02" stroke="#111" stroke-width="0.8" />
<text x="23.1" y="252.9" font-size="8" text-anchor="end" >4</text>
<line x1="24.4" y1="241.18" x2="26.4" y2="241.18" stroke="#111" stroke-width="0.8" />
<text x="23.1" y="244.06" font-size="8" text-anchor="end" >6</text>
<line x1="24.4" y1="232.34" x2="26.4" y2="232.34" stroke="#111" stroke-width="0.8" />
<text x="23.1" y="235.22" font-size="8" text-anchor="end" >8</text>
<line x1="24.4" y1="223.5" x2="26.4" y2="223.5" stroke="#111" stroke-width="0.8" />
<text x="23.1" y="226.38" font-size="8" text-anchor="end" >10</text>
<text x="9.3" y="225" font-size="8.1" text-anchor="middle" transform="rotate(-90 9.3 225)" xml:space="preserve">Relative mRNA  level</text>
<text x="206.3" y="8.4" font-size="8.6" text-anchor="middle" font-weight="bold" >C</text>
<rect x="338.4" y="9.2" width="50.2" height="121.2" fill="#fff" />
<line x1="344.3" y1="9.2" x2="344.3" y2="130.4" stroke="#ebebeb" stroke-width="0.6" />
<line x1="349.4" y1="9.2" x2="349.4" y2="130.4" stroke="#ebebeb" stroke-width="0.6" />
<line x1="354.5" y1="9.2" x2="354.5" y2="130.4" stroke="#ebebeb" stroke-width="0.6" />
<line x1="359.6" y1="9.2" x2="359.6" y2="130.4" stroke="#ebebeb" stroke-width="0.6" />
<line x1="364.7" y1="9.2" x2="364.7" y2="130.4" stroke="#ebebeb" stroke-width="0.6" />
<line x1="369.8" y1="9.2" x2="369.8" y2="130.4" stroke="#ebebeb" stroke-width="0.6" />
<line x1="374.9" y1="9.2" x2="374.9" y2="130.4" stroke="#ebebeb" stroke-width="0.6" />
<line x1="380" y1="9.2" x2="380" y2="130.4" stroke="#ebebeb" stroke-width="0.6" />
<line x1="385.1" y1="9.2" x2="385.1" y2="130.4" stroke="#ebebeb" stroke-width="0.6" />
<line x1="338.4" y1="15.3" x2="388.6" y2="15.3" stroke="#ebebeb" stroke-width="0.7" />
<line x1="338.4" y1="25.3" x2="388.6" y2="25.3" stroke="#ebebeb" stroke-width="0.7" />
<line x1="338.4" y1="35.3" x2="388.6" y2="35.3" stroke="#ebebeb" stroke-width="0.7" />
<line x1="338.4" y1="45.3" x2="388.6" y2="45.3" stroke="#ebebeb" stroke-width="0.7" />
<line x1="338.4" y1="55.3" x2="388.6" y2="55.3" stroke="#ebebeb" stroke-width="0.7" />
<line x1="338.4" y1="65.3" x2="388.6" y2="65.3" stroke="#ebebeb" stroke-width="0.7" />
<line x1="338.4" y1="75.3" x2="388.6" y2="75.3" stroke="#ebebeb" stroke-width="0.7" />
<line x1="338.4" y1="85.3" x2="388.6" y2="85.3" stroke="#ebebeb" stroke-width="0.7" />
<line x1="338.4" y1="95.3" x2="388.6" y2="95.3" stroke="#ebebeb" stroke-width="0.7" />
<line x1="338.4" y1="105.3" x2="388.6" y2="105.3" stroke="#ebebeb" stroke-width="0.7" />
<line x1="338.4" y1="115.3" x2="388.6" y2="115.3" stroke="#ebebeb" stroke-width="0.7" />
<line x1="338.4" y1="125.3" x2="388.6" y2="125.3" stroke="#ebebeb" stroke-width="0.7" />
<circle cx="386" cy="15.3" r="2.7" fill="#83cf3b" />
<circle cx="351.9" cy="25.3" r="2.2" fill="#83cf3b" />
<circle cx="357.6" cy="35.3" r="2.4" fill="#83cf3b" />
<circle cx="357.6" cy="45.3" r="2.4" fill="#83cf3b" />
<circle cx="374.9" cy="55.3" r="2.9" fill="#83cf3b" />
<circle cx="369.1" cy="65.3" r="2.8" fill="#83cf3b" />
<circle cx="346.3" cy="75.3" r="2.1" fill="#83cf3b" />
<circle cx="352" cy="85.3" r="2.3" fill="#83cf3b" />
<circle cx="374.9" cy="95.3" r="2.9" fill="#a6c23c" />
<circle cx="340.4" cy="105.3" r="1.6" fill="#c9a532" />
<circle cx="340.4" cy="115.3" r="1.6" fill="#e8532d" />
<circle cx="357.8" cy="125.3" r="2.8" fill="#e6482f" />
<rect x="338.4" y="9.2" width="50.2" height="121.2" fill="none" stroke="#9a9a9a" stroke-width="0.9"/>
<line x1="336.6" y1="15.3" x2="338.4" y2="15.3" stroke="#888" stroke-width="0.7" />
<text x="335.4" y="18.2" font-size="8.28" text-anchor="end" >Developmental cell growth</text>
<line x1="336.6" y1="25.3" x2="338.4" y2="25.3" stroke="#888" stroke-width="0.7" />
<text x="335.4" y="28.2" font-size="8.28" text-anchor="end" >Protein tyrosine kinase activity</text>
<line x1="336.6" y1="35.3" x2="338.4" y2="35.3" stroke="#888" stroke-width="0.7" />
<text x="335.4" y="38.2" font-size="8.28" text-anchor="end" >Regulation of cell junction assembly</text>
<line x1="336.6" y1="45.3" x2="338.4" y2="45.3" stroke="#888" stroke-width="0.7" />
<text x="335.4" y="48.2" font-size="8.28" text-anchor="end" >Regulation of ERK1 and ERK2 cascade</text>
<line x1="336.6" y1="55.3" x2="338.4" y2="55.3" stroke="#888" stroke-width="0.7" />
<text x="335.4" y="58.2" font-size="8.28" text-anchor="end" >Positive regulation of protein kinase activity</text>
<line x1="336.6" y1="65.3" x2="338.4" y2="65.3" stroke="#888" stroke-width="0.7" />
<text x="335.4" y="68.2" font-size="8.28" text-anchor="end" >Serine/threonine kinase signaling pathway</text>
<line x1="336.6" y1="75.3" x2="338.4" y2="75.3" stroke="#888" stroke-width="0.7" />
<text x="335.4" y="78.2" font-size="8.28" text-anchor="end" >Actin cytoskeleton reorganization</text>
<line x1="336.6" y1="85.3" x2="338.4" y2="85.3" stroke="#888" stroke-width="0.7" />
<text x="335.4" y="88.2" font-size="8.28" text-anchor="end" >Tight junction</text>
<line x1="336.6" y1="95.3" x2="338.4" y2="95.3" stroke="#888" stroke-width="0.7" />
<text x="335.4" y="98.2" font-size="8.28" text-anchor="end" >Calcium ion homeostasis</text>
<line x1="336.6" y1="105.3" x2="338.4" y2="105.3" stroke="#888" stroke-width="0.7" />
<text x="335.4" y="108.2" font-size="8.28" text-anchor="end" >Small GTPase mediated signal transduction</text>
<line x1="336.6" y1="115.3" x2="338.4" y2="115.3" stroke="#888" stroke-width="0.7" />
<text x="335.4" y="118.2" font-size="8.28" text-anchor="end" >Ubiquitin mediated proteolysis</text>
<line x1="336.6" y1="125.3" x2="338.4" y2="125.3" stroke="#888" stroke-width="0.7" />
<text x="335.4" y="128.2" font-size="8.28" text-anchor="end" >Regulation of angiogenesis</text>
<line x1="344.3" y1="130.4" x2="344.3" y2="132.2" stroke="#888" stroke-width="0.7" />
<line x1="354.5" y1="130.4" x2="354.5" y2="132.2" stroke="#888" stroke-width="0.7" />
<line x1="364.7" y1="130.4" x2="364.7" y2="132.2" stroke="#888" stroke-width="0.7" />
<line x1="374.9" y1="130.4" x2="374.9" y2="132.2" stroke="#888" stroke-width="0.7" />
<line x1="385.1" y1="130.4" x2="385.1" y2="132.2" stroke="#888" stroke-width="0.7" />
<text x="343.6" y="138.66" font-size="7.4" text-anchor="middle" >0.02</text>
<text x="363.6" y="138.66" font-size="7.4" text-anchor="middle" >0.04</text>
<text x="381.6" y="138.66" font-size="7.4" text-anchor="middle" >0.06</text>
<rect x="394.9" y="20.4" width="7.0" height="35.2" fill="url(#gC)"/>
<text x="403.8" y="31.83" font-size="7.3" >0.03</text>
<line x1="394.9" y1="29.2" x2="396.2" y2="29.2" stroke="#fff" stroke-width="0.5" />
<line x1="400.6" y1="29.2" x2="401.9" y2="29.2" stroke="#fff" stroke-width="0.5" />
<text x="403.8" y="40.93" font-size="7.3" >0.02</text>
<line x1="394.9" y1="38.3" x2="396.2" y2="38.3" stroke="#fff" stroke-width="0.5" />
<line x1="400.6" y1="38.3" x2="401.9" y2="38.3" stroke="#fff" stroke-width="0.5" />
<text x="403.8" y="50.13" font-size="7.3" >0.01</text>
<line x1="394.9" y1="47.5" x2="396.2" y2="47.5" stroke="#fff" stroke-width="0.5" />
<line x1="400.6" y1="47.5" x2="401.9" y2="47.5" stroke="#fff" stroke-width="0.5" />
<text x="395.0" y="16.9" font-size="7.9"><tspan font-style="italic">P</tspan> Value</text>
<text x="393.8" y="75.75" font-size="8.2" >Count</text>
<circle cx="399" cy="81.6" r="1.35" fill="#000" />
<text x="404.4" y="84.26" font-size="7.4" >3</text>
<circle cx="399" cy="89" r="2" fill="#000" />
<text x="404.4" y="91.66" font-size="7.4" >5</text>
<circle cx="399.1" cy="95.9" r="2.45" fill="#000" />
<text x="404.4" y="98.56" font-size="7.4" >7</text>
<circle cx="399.1" cy="103.6" r="2.85" fill="#000" />
<text x="404.4" y="106.26" font-size="7.4" >9</text>
<circle cx="399.1" cy="111.6" r="3.2" fill="#000" />
<text x="404.4" y="114.26" font-size="7.4" >11</text>
<text x="445.5" y="8.7" font-size="8.6" text-anchor="middle" font-weight="bold" >D</text>
<rect x="592.3" y="9.2" width="50.2" height="121.3" fill="#fff" />
<line x1="597.8" y1="9.2" x2="597.8" y2="130.5" stroke="#ebebeb" stroke-width="0.6" />
<line x1="606.4" y1="9.2" x2="606.4" y2="130.5" stroke="#ebebeb" stroke-width="0.6" />
<line x1="615" y1="9.2" x2="615" y2="130.5" stroke="#ebebeb" stroke-width="0.6" />
<line x1="623.6" y1="9.2" x2="623.6" y2="130.5" stroke="#ebebeb" stroke-width="0.6" />
<line x1="632.2" y1="9.2" x2="632.2" y2="130.5" stroke="#ebebeb" stroke-width="0.6" />
<line x1="640.8" y1="9.2" x2="640.8" y2="130.5" stroke="#ebebeb" stroke-width="0.6" />
<line x1="592.3" y1="14.9" x2="642.5" y2="14.9" stroke="#ebebeb" stroke-width="0.7" />
<line x1="592.3" y1="24.88" x2="642.5" y2="24.88" stroke="#ebebeb" stroke-width="0.7" />
<line x1="592.3" y1="34.86" x2="642.5" y2="34.86" stroke="#ebebeb" stroke-width="0.7" />
<line x1="592.3" y1="44.84" x2="642.5" y2="44.84" stroke="#ebebeb" stroke-width="0.7" />
<line x1="592.3" y1="54.82" x2="642.5" y2="54.82" stroke="#ebebeb" stroke-width="0.7" />
<line x1="592.3" y1="64.8" x2="642.5" y2="64.8" stroke="#ebebeb" stroke-width="0.7" />
<line x1="592.3" y1="74.78" x2="642.5" y2="74.78" stroke="#ebebeb" stroke-width="0.7" />
<line x1="592.3" y1="84.76" x2="642.5" y2="84.76" stroke="#ebebeb" stroke-width="0.7" />
<line x1="592.3" y1="94.74" x2="642.5" y2="94.74" stroke="#ebebeb" stroke-width="0.7" />
<line x1="592.3" y1="104.72" x2="642.5" y2="104.72" stroke="#ebebeb" stroke-width="0.7" />
<line x1="592.3" y1="114.7" x2="642.5" y2="114.7" stroke="#ebebeb" stroke-width="0.7" />
<line x1="592.3" y1="124.68" x2="642.5" y2="124.68" stroke="#ebebeb" stroke-width="0.7" />
<circle cx="612.6" cy="14.9" r="2.6" fill="#83cf3b" />
<circle cx="625.5" cy="24.88" r="3.3" fill="#83cf3b" />
<circle cx="631" cy="34.86" r="3.1" fill="#83cf3b" />
<circle cx="594.6" cy="44.84" r="1.5" fill="#83cf3b" />
<circle cx="594.6" cy="54.82" r="1.5" fill="#83cf3b" />
<circle cx="608.4" cy="64.8" r="2.4" fill="#83cf3b" />
<circle cx="594.4" cy="74.78" r="1.5" fill="#83cf3b" />
<circle cx="603.6" cy="84.76" r="2.2" fill="#83cf3b" />
<circle cx="640" cy="94.74" r="2.9" fill="#83cf3b" />
<circle cx="594.4" cy="104.72" r="1.4" fill="#b3b833" />
<circle cx="630.9" cy="114.7" r="2.9" fill="#e8502d" />
<circle cx="630.9" cy="124.68" r="2.9" fill="#e63b2e" />
<rect x="592.3" y="9.2" width="50.2" height="121.3" fill="none" stroke="#9a9a9a" stroke-width="0.9"/>
<line x1="590.5" y1="14.9" x2="592.3" y2="14.9" stroke="#888" stroke-width="0.7" />
<text x="589.3" y="16.9" font-size="8.2" text-anchor="end" >Synaptonemal complex</text>
<line x1="590.5" y1="24.88" x2="592.3" y2="24.88" stroke="#888" stroke-width="0.7" />
<text x="589.3" y="26.88" font-size="8.2" text-anchor="end" >Oxidation-reduction process</text>
<line x1="590.5" y1="34.86" x2="592.3" y2="34.86" stroke="#888" stroke-width="0.7" />
<text x="589.3" y="36.86" font-size="8.2" text-anchor="end" >Response to endoplasmic reticulum stress</text>
<line x1="590.5" y1="44.84" x2="592.3" y2="44.84" stroke="#888" stroke-width="0.7" />
<text x="589.3" y="46.84" font-size="8.2" text-anchor="end" >tRNA aminoacylation</text>
<line x1="590.5" y1="54.82" x2="592.3" y2="54.82" stroke="#888" stroke-width="0.7" />
<text x="589.3" y="56.82" font-size="8.2" text-anchor="end" >Regulation of DNA−templated transcription</text>
<line x1="590.5" y1="64.8" x2="592.3" y2="64.8" stroke="#888" stroke-width="0.7" />
<text x="589.3" y="66.8" font-size="8.2" text-anchor="end" >Response to topologically incorrect protein</text>
<line x1="590.5" y1="74.78" x2="592.3" y2="74.78" stroke="#888" stroke-width="0.7" />
<text x="589.3" y="76.78" font-size="8.2" text-anchor="end" >Glutathione metabolic process</text>
<line x1="590.5" y1="84.76" x2="592.3" y2="84.76" stroke="#888" stroke-width="0.7" />
<text x="589.3" y="86.76" font-size="8.2" text-anchor="end" >Response to unfolded protein</text>
<line x1="590.5" y1="94.74" x2="592.3" y2="94.74" stroke="#888" stroke-width="0.7" />
<text x="589.3" y="96.74" font-size="8.2" text-anchor="end" >Response to oxidative stress</text>
<line x1="590.5" y1="104.72" x2="592.3" y2="104.72" stroke="#888" stroke-width="0.7" />
<text x="589.3" y="106.72" font-size="8.2" text-anchor="end" >oxidative stress−induced cell death</text>
<line x1="590.5" y1="114.7" x2="592.3" y2="114.7" stroke="#888" stroke-width="0.7" />
<text x="589.3" y="116.7" font-size="8.2" text-anchor="end" >Regulation of apoptotic signaling pathway</text>
<line x1="590.5" y1="124.68" x2="592.3" y2="124.68" stroke="#888" stroke-width="0.7" />
<text x="589.3" y="126.68" font-size="8.2" text-anchor="end" >Neuron death</text>
<line x1="606.4" y1="130.5" x2="606.4" y2="132.3" stroke="#888" stroke-width="0.7" />
<line x1="623.6" y1="130.5" x2="623.6" y2="132.3" stroke="#888" stroke-width="0.7" />
<line x1="640.8" y1="130.5" x2="640.8" y2="132.3" stroke="#888" stroke-width="0.7" />
<text x="605.3" y="138.76" font-size="7.4" text-anchor="middle" >0.02</text>
<text x="637" y="138.76" font-size="7.4" text-anchor="middle" >0.04</text>
<rect x="649.0" y="25.3" width="7.2" height="35.2" fill="url(#gD)"/>
<text x="658.1" y="35.33" font-size="7.3" >0.015</text>
<line x1="649" y1="32.7" x2="650.3" y2="32.7" stroke="#fff" stroke-width="0.5" />
<line x1="654.9" y1="32.7" x2="656.2" y2="32.7" stroke="#fff" stroke-width="0.5" />
<text x="658.1" y="44.03" font-size="7.3" >0.010</text>
<line x1="649" y1="41.4" x2="650.3" y2="41.4" stroke="#fff" stroke-width="0.5" />
<line x1="654.9" y1="41.4" x2="656.2" y2="41.4" stroke="#fff" stroke-width="0.5" />
<text x="658.1" y="53.23" font-size="7.3" >0.005</text>
<line x1="649" y1="50.6" x2="650.3" y2="50.6" stroke="#fff" stroke-width="0.5" />
<line x1="654.9" y1="50.6" x2="656.2" y2="50.6" stroke="#fff" stroke-width="0.5" />
<text x="648.2" y="19.8" font-size="7.9"><tspan font-style="italic">P</tspan> Value</text>
<text x="647.9" y="82.75" font-size="8.2" >Count</text>
<circle cx="653.6" cy="91.8" r="1.7" fill="#000" />
<text x="659.8" y="94.46" font-size="7.4" >5</text>
<circle cx="653.6" cy="98.8" r="2.6" fill="#000" />
<text x="658.6" y="101.46" font-size="7.4" >10</text>
<circle cx="653.6" cy="106.2" r="3.2" fill="#000" />
<text x="658.6" y="108.86" font-size="7.4" >15</text>
<text x="324.7" y="166.5" font-size="8.6" text-anchor="middle" font-weight="bold" >G</text>
<rect x="340.3" y="168" width="121.2" height="109.7" fill="#fff" />
<line x1="400.9" y1="168" x2="400.9" y2="277.7" stroke="#c8c8c8" stroke-width="0.7" stroke-dasharray="2.2,2.2"/>
<line x1="340.3" y1="222.6" x2="461.5" y2="222.6" stroke="#c8c8c8" stroke-width="0.7" stroke-dasharray="2.2,2.2"/>
<polygon points="363.5,227.3 365.9,226.1 368.4,224.9 370.9,223.6 373.3,222.4 375.8,221.2 378.2,219.9 380.6,218.7 383.1,217.5 385.6,216.2 388.0,215.0 390.4,213.7 392.9,212.5 395.4,211.2 397.8,209.9 400.2,208.7 402.7,207.3 405.1,206.0 407.6,204.6 410.1,203.1 412.5,201.6 414.9,200.0 417.4,198.2 419.9,196.4 422.3,194.6 424.8,192.7 427.2,190.8 429.6,188.8 432.1,186.9 434.6,184.9 437.0,182.9 439.4,181.0 441.9,179.0 444.4,177.0 446.8,175.0 449.2,173.0 451.7,171.1 454.1,169.1 456.6,167.1 459.1,165.1 461.5,163.1 461.5,178.9 459.1,180.2 456.6,181.4 454.1,182.6 451.7,183.8 449.2,185.1 446.8,186.3 444.4,187.5 441.9,188.8 439.4,190.0 437.0,191.3 434.6,192.5 432.1,193.8 429.6,195.0 427.2,196.3 424.8,197.6 422.3,198.9 419.9,200.3 417.4,201.7 414.9,203.2 412.5,204.8 410.1,206.5 407.6,208.2 405.1,210.1 402.7,211.9 400.2,213.8 397.8,215.8 395.4,217.7 392.9,219.7 390.4,221.6 388.0,223.6 385.6,225.6 383.1,227.6 380.6,229.5 378.2,231.5 375.8,233.5 373.3,235.5 370.9,237.5 368.4,239.5 365.9,241.5 363.5,243.5" fill="#f3d6c8" fill-opacity="0.75"/>
<g fill="#3f56aa"><circle cx="407.2" cy="205.5" r="1.05"/><circle cx="411.9" cy="199.7" r="1.05"/><circle cx="407.2" cy="202.6" r="1.05"/><circle cx="410.6" cy="210.1" r="1.05"/><circle cx="407.2" cy="194.6" r="1.05"/><circle cx="411.2" cy="206.1" r="1.05"/><circle cx="413.2" cy="209.4" r="1.05"/><circle cx="409.3" cy="201.2" r="1.05"/><circle cx="415.7" cy="201.1" r="1.05"/><circle cx="407.6" cy="195.6" r="1.05"/><circle cx="409.7" cy="203.9" r="1.05"/><circle cx="408.7" cy="202.6" r="1.05"/><circle cx="410.2" cy="207.5" r="1.05"/><circle cx="412.1" cy="204.4" r="1.05"/><circle cx="407.2" cy="207.6" r="1.05"/><circle cx="407.2" cy="201.9" r="1.05"/><circle cx="407.2" cy="203.0" r="1.05"/><circle cx="407.6" cy="204.4" r="1.05"/><circle cx="417.4" cy="202.7" r="1.05"/><circle cx="411.5" cy="194.4" r="1.05"/><circle cx="408.8" cy="207.3" r="1.05"/><circle cx="409.3" cy="205.4" r="1.05"/><circle cx="409.7" cy="196.5" r="1.05"/><circle cx="410.9" cy="197.7" r="1.05"/><circle cx="414.0" cy="199.7" r="1.05"/><circle cx="411.1" cy="203.0" r="1.05"/><circle cx="411.8" cy="199.1" r="1.05"/><circle cx="411.9" cy="202.2" r="1.05"/><circle cx="412.5" cy="207.1" r="1.05"/><circle cx="409.8" cy="197.9" r="1.05"/><circle cx="411.3" cy="206.0" r="1.05"/><circle cx="413.4" cy="200.5" r="1.05"/><circle cx="410.8" cy="206.3" r="1.05"/><circle cx="410.2" cy="204.4" r="1.05"/><circle cx="409.9" cy="199.1" r="1.05"/><circle cx="407.2" cy="200.4" r="1.05"/><circle cx="410.9" cy="212.8" r="1.05"/><circle cx="411.8" cy="209.8" r="1.05"/><circle cx="411.4" cy="207.5" r="1.05"/><circle cx="409.9" cy="208.0" r="1.05"/><circle cx="413.8" cy="200.9" r="1.05"/><circle cx="407.8" cy="215.7" r="1.05"/><circle cx="410.1" cy="209.3" r="1.05"/><circle cx="411.6" cy="195.6" r="1.05"/><circle cx="415.3" cy="214.5" r="1.05"/><circle cx="409.9" cy="207.9" r="1.05"/><circle cx="409.8" cy="197.3" r="1.05"/><circle cx="409.2" cy="205.4" r="1.05"/><circle cx="412.2" cy="207.6" r="1.05"/><circle cx="409.6" cy="211.8" r="1.05"/><circle cx="407.7" cy="208.2" r="1.05"/><circle cx="412.2" cy="201.1" r="1.05"/><circle cx="407.2" cy="197.1" r="1.05"/><circle cx="410.1" cy="206.4" r="1.05"/><circle cx="413.2" cy="196.5" r="1.05"/><circle cx="409.5" cy="207.2" r="1.05"/><circle cx="409.1" cy="188.0" r="1.05"/><circle cx="411.4" cy="216.5" r="1.05"/><circle cx="411.9" cy="197.0" r="1.05"/><circle cx="408.5" cy="204.4" r="1.05"/><circle cx="415.5" cy="207.0" r="1.05"/><circle cx="409.8" cy="213.1" r="1.05"/><circle cx="409.3" cy="215.1" r="1.05"/><circle cx="407.9" cy="199.9" r="1.05"/><circle cx="411.2" cy="212.3" r="1.05"/><circle cx="411.1" cy="205.0" r="1.05"/><circle cx="407.2" cy="198.4" r="1.05"/><circle cx="408.0" cy="199.5" r="1.05"/><circle cx="410.9" cy="200.8" r="1.05"/><circle cx="411.4" cy="203.5" r="1.05"/><circle cx="408.7" cy="203.8" r="1.05"/><circle cx="410.5" cy="208.6" r="1.05"/><circle cx="408.4" cy="201.5" r="1.05"/><circle cx="407.2" cy="213.4" r="1.05"/><circle cx="413.0" cy="201.8" r="1.05"/><circle cx="408.4" cy="195.0" r="1.05"/><circle cx="409.9" cy="204.3" r="1.05"/><circle cx="414.7" cy="204.6" r="1.05"/><circle cx="407.6" cy="188.0" r="1.05"/><circle cx="412.9" cy="204.2" r="1.05"/><circle cx="407.2" cy="204.2" r="1.05"/><circle cx="407.2" cy="216.5" r="1.05"/><circle cx="412.2" cy="206.7" r="1.05"/><circle cx="409.1" cy="189.1" r="1.05"/><circle cx="409.2" cy="192.9" r="1.05"/><circle cx="410.9" cy="189.1" r="1.05"/><circle cx="407.3" cy="210.9" r="1.05"/><circle cx="413.4" cy="195.3" r="1.05"/><circle cx="407.2" cy="208.7" r="1.05"/><circle cx="411.5" cy="196.6" r="1.05"/><circle cx="407.8" cy="198.5" r="1.05"/><circle cx="407.2" cy="198.6" r="1.05"/><circle cx="412.5" cy="207.5" r="1.05"/><circle cx="414.4" cy="202.4" r="1.05"/><circle cx="409.2" cy="196.6" r="1.05"/><circle cx="409.2" cy="194.5" r="1.05"/><circle cx="407.2" cy="207.5" r="1.05"/><circle cx="413.0" cy="208.4" r="1.05"/><circle cx="412.7" cy="204.6" r="1.05"/><circle cx="407.8" cy="203.6" r="1.05"/><circle cx="408.6" cy="195.8" r="1.05"/><circle cx="407.2" cy="193.4" r="1.05"/><circle cx="409.5" cy="204.0" r="1.05"/><circle cx="408.4" cy="212.3" r="1.05"/><circle cx="409.9" cy="206.8" r="1.05"/><circle cx="412.4" cy="197.7" r="1.05"/><circle cx="407.2" cy="207.9" r="1.05"/><circle cx="407.8" cy="211.5" r="1.05"/><circle cx="410.3" cy="209.5" r="1.05"/><circle cx="411.3" cy="189.5" r="1.05"/><circle cx="411.2" cy="198.6" r="1.05"/><circle cx="407.7" cy="200.2" r="1.05"/><circle cx="411.3" cy="208.7" r="1.05"/><circle cx="411.9" cy="192.2" r="1.05"/><circle cx="408.1" cy="188.0" r="1.05"/><circle cx="409.3" cy="206.9" r="1.05"/><circle cx="407.7" cy="204.6" r="1.05"/><circle cx="410.1" cy="209.5" r="1.05"/><circle cx="407.5" cy="197.6" r="1.05"/><circle cx="407.7" cy="214.4" r="1.05"/><circle cx="412.1" cy="202.2" r="1.05"/><circle cx="410.0" cy="203.7" r="1.05"/><circle cx="410.0" cy="201.6" r="1.05"/><circle cx="408.7" cy="194.8" r="1.05"/><circle cx="408.0" cy="213.7" r="1.05"/><circle cx="410.8" cy="203.4" r="1.05"/><circle cx="409.0" cy="203.4" r="1.05"/><circle cx="410.3" cy="198.8" r="1.05"/><circle cx="410.0" cy="204.6" r="1.05"/><circle cx="407.7" cy="197.9" r="1.05"/><circle cx="407.2" cy="196.1" r="1.05"/><circle cx="411.6" cy="188.0" r="1.05"/><circle cx="408.9" cy="199.0" r="1.05"/><circle cx="408.0" cy="203.6" r="1.05"/><circle cx="412.2" cy="203.5" r="1.05"/><circle cx="409.2" cy="199.0" r="1.05"/><circle cx="409.2" cy="208.9" r="1.05"/><circle cx="408.6" cy="195.5" r="1.05"/><circle cx="407.2" cy="195.8" r="1.05"/><circle cx="407.2" cy="210.1" r="1.05"/><circle cx="410.4" cy="201.5" r="1.05"/><circle cx="413.0" cy="198.7" r="1.05"/><circle cx="411.3" cy="208.2" r="1.05"/><circle cx="407.2" cy="192.9" r="1.05"/><circle cx="407.3" cy="208.9" r="1.05"/><circle cx="412.6" cy="195.0" r="1.05"/><circle cx="412.0" cy="200.5" r="1.05"/><circle cx="408.6" cy="199.4" r="1.05"/><circle cx="408.7" cy="191.2" r="1.05"/><circle cx="407.2" cy="195.0" r="1.05"/><circle cx="410.7" cy="216.5" r="1.05"/><circle cx="416.1" cy="200.8" r="1.05"/><circle cx="407.2" cy="200.4" r="1.05"/><circle cx="407.2" cy="215.9" r="1.05"/><circle cx="410.9" cy="198.3" r="1.05"/><circle cx="411.7" cy="206.5" r="1.05"/><circle cx="407.2" cy="199.5" r="1.05"/><circle cx="408.9" cy="203.1" r="1.05"/><circle cx="409.8" cy="200.8" r="1.05"/><circle cx="410.0" cy="199.2" r="1.05"/><circle cx="407.3" cy="212.9" r="1.05"/><circle cx="410.4" cy="205.8" r="1.05"/><circle cx="407.2" cy="201.9" r="1.05"/><circle cx="411.5" cy="194.6" r="1.05"/><circle cx="412.1" cy="200.5" r="1.05"/><circle cx="410.5" cy="202.1" r="1.05"/><circle cx="410.0" cy="210.8" r="1.05"/><circle cx="408.5" cy="213.2" r="1.05"/><circle cx="407.6" cy="196.9" r="1.05"/><circle cx="411.2" cy="196.1" r="1.05"/><circle cx="408.6" cy="208.9" r="1.05"/><circle cx="412.4" cy="191.5" r="1.05"/><circle cx="410.7" cy="215.2" r="1.05"/><circle cx="412.4" cy="201.4" r="1.05"/><circle cx="408.1" cy="201.1" r="1.05"/><circle cx="407.2" cy="201.3" r="1.05"/><circle cx="409.1" cy="202.1" r="1.05"/><circle cx="412.3" cy="201.5" r="1.05"/><circle cx="407.2" cy="209.8" r="1.05"/><circle cx="407.2" cy="200.1" r="1.05"/><circle cx="409.2" cy="200.8" r="1.05"/><circle cx="407.2" cy="201.4" r="1.05"/><circle cx="414.7" cy="199.1" r="1.05"/><circle cx="409.2" cy="210.3" r="1.05"/><circle cx="411.3" cy="208.0" r="1.05"/><circle cx="411.6" cy="190.2" r="1.05"/><circle cx="407.4" cy="203.8" r="1.05"/><circle cx="410.7" cy="211.4" r="1.05"/><circle cx="410.6" cy="201.5" r="1.05"/><circle cx="409.6" cy="201.6" r="1.05"/><circle cx="410.1" cy="207.4" r="1.05"/><circle cx="408.7" cy="197.7" r="1.05"/><circle cx="407.4" cy="210.1" r="1.05"/><circle cx="412.6" cy="209.4" r="1.05"/><circle cx="411.6" cy="208.4" r="1.05"/><circle cx="409.5" cy="207.3" r="1.05"/><circle cx="407.2" cy="201.7" r="1.05"/><circle cx="407.7" cy="207.7" r="1.05"/><circle cx="408.1" cy="202.3" r="1.05"/><circle cx="410.5" cy="211.8" r="1.05"/><circle cx="407.6" cy="196.9" r="1.05"/><circle cx="411.5" cy="195.8" r="1.05"/><circle cx="410.6" cy="199.3" r="1.05"/><circle cx="409.2" cy="191.2" r="1.05"/><circle cx="411.2" cy="199.7" r="1.05"/><circle cx="407.3" cy="216.5" r="1.05"/><circle cx="411.2" cy="216.5" r="1.05"/><circle cx="410.5" cy="200.7" r="1.05"/><circle cx="409.8" cy="213.4" r="1.05"/><circle cx="409.4" cy="205.9" r="1.05"/><circle cx="410.7" cy="197.1" r="1.05"/><circle cx="409.8" cy="199.7" r="1.05"/><circle cx="407.2" cy="208.7" r="1.05"/><circle cx="411.1" cy="203.5" r="1.05"/><circle cx="407.3" cy="190.0" r="1.05"/><circle cx="410.7" cy="202.4" r="1.05"/><circle cx="407.2" cy="202.6" r="1.05"/><circle cx="407.2" cy="202.8" r="1.05"/><circle cx="409.8" cy="205.3" r="1.05"/><circle cx="410.0" cy="204.1" r="1.05"/><circle cx="407.2" cy="200.5" r="1.05"/><circle cx="408.3" cy="201.5" r="1.05"/><circle cx="410.1" cy="207.0" r="1.05"/><circle cx="413.4" cy="188.0" r="1.05"/><circle cx="410.5" cy="201.7" r="1.05"/><circle cx="415.0" cy="209.1" r="1.05"/><circle cx="407.2" cy="205.6" r="1.05"/><circle cx="408.3" cy="209.5" r="1.05"/><circle cx="407.2" cy="202.3" r="1.05"/><circle cx="409.2" cy="202.4" r="1.05"/><circle cx="408.1" cy="191.1" r="1.05"/><circle cx="410.6" cy="209.5" r="1.05"/><circle cx="409.3" cy="196.4" r="1.05"/><circle cx="410.0" cy="206.7" r="1.05"/><circle cx="409.1" cy="202.9" r="1.05"/><circle cx="412.9" cy="195.7" r="1.05"/><circle cx="408.2" cy="190.6" r="1.05"/><circle cx="407.8" cy="198.2" r="1.05"/><circle cx="407.2" cy="198.5" r="1.05"/><circle cx="413.8" cy="201.7" r="1.05"/><circle cx="409.2" cy="216.5" r="1.05"/><circle cx="409.4" cy="191.7" r="1.05"/><circle cx="410.5" cy="196.9" r="1.05"/><circle cx="413.4" cy="194.9" r="1.05"/><circle cx="408.1" cy="192.6" r="1.05"/><circle cx="409.7" cy="196.4" r="1.05"/><circle cx="409.3" cy="200.6" r="1.05"/><circle cx="408.0" cy="209.1" r="1.05"/><circle cx="411.7" cy="203.4" r="1.05"/><circle cx="407.3" cy="196.0" r="1.05"/><circle cx="410.1" cy="216.5" r="1.05"/><circle cx="408.4" cy="197.9" r="1.05"/><circle cx="407.8" cy="195.9" r="1.05"/><circle cx="407.2" cy="201.7" r="1.05"/><circle cx="412.9" cy="203.0" r="1.05"/><circle cx="408.3" cy="192.5" r="1.05"/><circle cx="410.0" cy="202.8" r="1.05"/><circle cx="407.2" cy="195.9" r="1.05"/><circle cx="409.4" cy="209.6" r="1.05"/><circle cx="411.0" cy="204.3" r="1.05"/><circle cx="408.7" cy="205.1" r="1.05"/><circle cx="409.5" cy="216.5" r="1.05"/><circle cx="407.2" cy="200.6" r="1.05"/><circle cx="412.5" cy="201.3" r="1.05"/><circle cx="412.9" cy="202.7" r="1.05"/><circle cx="409.8" cy="200.6" r="1.05"/><circle cx="407.2" cy="196.7" r="1.05"/><circle cx="414.8" cy="207.2" r="1.05"/><circle cx="411.0" cy="209.2" r="1.05"/><circle cx="410.9" cy="209.6" r="1.05"/><circle cx="408.9" cy="201.5" r="1.05"/><circle cx="411.9" cy="200.7" r="1.05"/><circle cx="407.2" cy="201.5" r="1.05"/><circle cx="408.2" cy="207.0" r="1.05"/><circle cx="407.8" cy="196.1" r="1.05"/><circle cx="408.7" cy="213.1" r="1.05"/><circle cx="409.4" cy="204.0" r="1.05"/><circle cx="409.5" cy="204.9" r="1.05"/><circle cx="411.7" cy="212.1" r="1.05"/><circle cx="407.2" cy="211.8" r="1.05"/><circle cx="409.5" cy="200.9" r="1.05"/><circle cx="415.3" cy="201.9" r="1.05"/><circle cx="414.2" cy="209.3" r="1.05"/><circle cx="407.2" cy="206.2" r="1.05"/><circle cx="411.3" cy="202.2" r="1.05"/><circle cx="407.2" cy="200.8" r="1.05"/><circle cx="409.0" cy="195.8" r="1.05"/><circle cx="413.9" cy="201.4" r="1.05"/><circle cx="408.6" cy="201.1" r="1.05"/><circle cx="407.6" cy="198.0" r="1.05"/><circle cx="409.7" cy="205.0" r="1.05"/><circle cx="408.3" cy="202.4" r="1.05"/><circle cx="407.2" cy="206.4" r="1.05"/><circle cx="407.7" cy="204.4" r="1.05"/><circle cx="407.3" cy="199.7" r="1.05"/><circle cx="410.0" cy="195.1" r="1.05"/><circle cx="415.4" cy="202.8" r="1.05"/><circle cx="409.3" cy="198.2" r="1.05"/><circle cx="413.3" cy="212.0" r="1.05"/><circle cx="410.2" cy="194.1" r="1.05"/><circle cx="408.3" cy="207.0" r="1.05"/><circle cx="408.3" cy="195.3" r="1.05"/><circle cx="407.2" cy="198.0" r="1.05"/><circle cx="409.5" cy="198.8" r="1.05"/><circle cx="409.5" cy="216.5" r="1.05"/><circle cx="413.8" cy="196.3" r="1.05"/><circle cx="410.3" cy="203.6" r="1.05"/><circle cx="409.2" cy="209.8" r="1.05"/><circle cx="408.7" cy="200.9" r="1.05"/><circle cx="408.6" cy="202.3" r="1.05"/><circle cx="412.6" cy="208.0" r="1.05"/><circle cx="407.2" cy="200.1" r="1.05"/><circle cx="407.6" cy="208.3" r="1.05"/><circle cx="410.0" cy="208.8" r="1.05"/><circle cx="409.4" cy="190.6" r="1.05"/><circle cx="410.6" cy="204.5" r="1.05"/><circle cx="410.7" cy="194.5" r="1.05"/><circle cx="409.7" cy="198.5" r="1.05"/><circle cx="407.9" cy="205.3" r="1.05"/><circle cx="410.3" cy="197.2" r="1.05"/><circle cx="407.2" cy="188.0" r="1.05"/><circle cx="408.1" cy="210.3" r="1.05"/><circle cx="409.4" cy="188.4" r="1.05"/><circle cx="407.4" cy="205.7" r="1.05"/><circle cx="413.5" cy="210.6" r="1.05"/><circle cx="410.4" cy="204.3" r="1.05"/><circle cx="407.2" cy="200.1" r="1.05"/><circle cx="408.7" cy="198.0" r="1.05"/><circle cx="409.7" cy="200.4" r="1.05"/><circle cx="410.3" cy="212.3" r="1.05"/><circle cx="409.6" cy="192.8" r="1.05"/><circle cx="421.8" cy="204.1" r="1.05"/><circle cx="413.4" cy="188.1" r="1.05"/><circle cx="414.8" cy="205.1" r="1.05"/><circle cx="415.0" cy="187.4" r="1.05"/><circle cx="421.5" cy="200.5" r="1.05"/><circle cx="425.5" cy="211.3" r="1.05"/><circle cx="425.4" cy="196.7" r="1.05"/><circle cx="423.3" cy="192.8" r="1.05"/><circle cx="414.0" cy="195.6" r="1.05"/><circle cx="425.8" cy="209.9" r="1.05"/><circle cx="412.7" cy="194.5" r="1.05"/><circle cx="414.9" cy="194.5" r="1.05"/><circle cx="415.5" cy="195.2" r="1.05"/><circle cx="411.7" cy="200.4" r="1.05"/><circle cx="423.1" cy="199.7" r="1.05"/><circle cx="423.9" cy="200.3" r="1.05"/><circle cx="411.4" cy="206.0" r="1.05"/><circle cx="424.7" cy="192.2" r="1.05"/><circle cx="408.4" cy="199.0" r="1.05"/><circle cx="418.3" cy="200.5" r="1.05"/><circle cx="426.4" cy="202.9" r="1.05"/><circle cx="423.3" cy="185.9" r="1.05"/><circle cx="418.4" cy="206.9" r="1.05"/><circle cx="409.6" cy="186.4" r="1.05"/><circle cx="422.0" cy="210.1" r="1.05"/><circle cx="409.6" cy="202.4" r="1.05"/><circle cx="410.7" cy="205.6" r="1.05"/><circle cx="420.3" cy="191.1" r="1.05"/><circle cx="412.2" cy="206.2" r="1.05"/><circle cx="417.9" cy="206.2" r="1.05"/><circle cx="415.5" cy="193.8" r="1.05"/><circle cx="426.4" cy="203.5" r="1.05"/><circle cx="417.4" cy="199.6" r="1.05"/><circle cx="421.7" cy="204.5" r="1.05"/><circle cx="425.4" cy="195.9" r="1.05"/><circle cx="423.7" cy="203.3" r="1.05"/><circle cx="424.2" cy="207.4" r="1.05"/><circle cx="423.8" cy="209.8" r="1.05"/><circle cx="426.2" cy="202.6" r="1.05"/><circle cx="418.0" cy="204.6" r="1.05"/><circle cx="423.2" cy="196.2" r="1.05"/><circle cx="416.0" cy="188.2" r="1.05"/><circle cx="422.1" cy="212.7" r="1.05"/><circle cx="415.1" cy="188.9" r="1.05"/><circle cx="411.9" cy="196.3" r="1.05"/><circle cx="413.5" cy="212.1" r="1.05"/><circle cx="409.1" cy="192.9" r="1.05"/><circle cx="410.2" cy="202.8" r="1.05"/><circle cx="422.7" cy="189.2" r="1.05"/><circle cx="409.2" cy="197.3" r="1.05"/><circle cx="419.1" cy="210.4" r="1.05"/><circle cx="408.7" cy="187.2" r="1.05"/><circle cx="411.5" cy="190.3" r="1.05"/><circle cx="412.5" cy="204.8" r="1.05"/><circle cx="419.3" cy="190.5" r="1.05"/><circle cx="411.5" cy="192.2" r="1.05"/><circle cx="411.3" cy="206.0" r="1.05"/><circle cx="413.9" cy="199.9" r="1.05"/><circle cx="423.5" cy="197.9" r="1.05"/><circle cx="412.9" cy="209.7" r="1.05"/><circle cx="425.4" cy="193.9" r="1.05"/><circle cx="418.4" cy="211.8" r="1.05"/><circle cx="417.2" cy="190.4" r="1.05"/><circle cx="408.9" cy="211.5" r="1.05"/><circle cx="423.2" cy="195.2" r="1.05"/><circle cx="418.0" cy="199.0" r="1.05"/><circle cx="413.2" cy="212.7" r="1.05"/><circle cx="420.5" cy="190.9" r="1.05"/><circle cx="408.2" cy="197.7" r="1.05"/><circle cx="415.1" cy="207.1" r="1.05"/><circle cx="421.6" cy="201.6" r="1.05"/><circle cx="411.0" cy="188.6" r="1.05"/><circle cx="414.1" cy="191.5" r="1.05"/><circle cx="424.5" cy="199.0" r="1.05"/><circle cx="420.1" cy="212.8" r="1.05"/><circle cx="413.1" cy="199.5" r="1.05"/><circle cx="410.9" cy="206.3" r="1.05"/><circle cx="408.0" cy="207.8" r="1.05"/><circle cx="424.1" cy="207.8" r="1.05"/><circle cx="409.6" cy="191.8" r="1.05"/><circle cx="421.6" cy="186.8" r="1.05"/><circle cx="417.1" cy="197.6" r="1.05"/><circle cx="426.2" cy="201.0" r="1.05"/><circle cx="424.3" cy="192.8" r="1.05"/><circle cx="423.0" cy="196.1" r="1.05"/><circle cx="425.4" cy="186.6" r="1.05"/><circle cx="423.7" cy="190.0" r="1.05"/><circle cx="418.3" cy="199.2" r="1.05"/><circle cx="411.0" cy="208.1" r="1.05"/><circle cx="413.9" cy="193.0" r="1.05"/><circle cx="409.4" cy="192.9" r="1.05"/><circle cx="416.9" cy="204.7" r="1.05"/><circle cx="414.8" cy="203.9" r="1.05"/><circle cx="410.0" cy="195.4" r="1.05"/><circle cx="416.8" cy="212.0" r="1.05"/><circle cx="423.8" cy="203.0" r="1.05"/><circle cx="408.2" cy="194.9" r="1.05"/><circle cx="421.5" cy="190.9" r="1.05"/><circle cx="418.7" cy="197.3" r="1.05"/><circle cx="408.2" cy="212.8" r="1.05"/><circle cx="423.2" cy="190.0" r="1.05"/><circle cx="419.7" cy="192.4" r="1.05"/><circle cx="415.1" cy="199.7" r="1.05"/><circle cx="413.7" cy="193.8" r="1.05"/><circle cx="415.5" cy="203.3" r="1.05"/><circle cx="412.9" cy="189.8" r="1.05"/><circle cx="421.9" cy="193.6" r="1.05"/><circle cx="426.0" cy="200.3" r="1.05"/><circle cx="421.8" cy="193.6" r="1.05"/><circle cx="423.7" cy="186.7" r="1.05"/><circle cx="410.7" cy="186.7" r="1.05"/><circle cx="420.9" cy="204.5" r="1.05"/><circle cx="411.4" cy="195.7" r="1.05"/><circle cx="423.9" cy="201.2" r="1.05"/><circle cx="409.7" cy="190.6" r="1.05"/><circle cx="411.0" cy="187.6" r="1.05"/><circle cx="415.7" cy="186.1" r="1.05"/><circle cx="425.5" cy="196.4" r="1.05"/><circle cx="417.7" cy="202.8" r="1.05"/><circle cx="437.2" cy="200.2" r="1.05"/><circle cx="427.6" cy="186.9" r="1.05"/><circle cx="428.3" cy="178.4" r="1.05"/><circle cx="428.0" cy="196.9" r="1.05"/><circle cx="442.5" cy="199.3" r="1.05"/><circle cx="434.5" cy="194.4" r="1.05"/><circle cx="418.5" cy="186.9" r="1.05"/><circle cx="426.6" cy="195.6" r="1.05"/><circle cx="420.7" cy="188.2" r="1.05"/><circle cx="430.7" cy="199.3" r="1.05"/><circle cx="438.6" cy="194.5" r="1.05"/><circle cx="422.0" cy="198.7" r="1.05"/><circle cx="440.6" cy="192.8" r="1.05"/><circle cx="426.8" cy="191.5" r="1.05"/><circle cx="421.5" cy="197.3" r="1.05"/><circle cx="442.7" cy="191.9" r="1.05"/><circle cx="435.9" cy="200.6" r="1.05"/><circle cx="422.9" cy="203.5" r="1.05"/><circle cx="433.7" cy="183.3" r="1.05"/><circle cx="420.1" cy="184.6" r="1.05"/><circle cx="432.4" cy="196.8" r="1.05"/><circle cx="426.2" cy="203.1" r="1.05"/><circle cx="427.0" cy="190.5" r="1.05"/><circle cx="421.1" cy="204.3" r="1.05"/><circle cx="421.4" cy="202.4" r="1.05"/><circle cx="431.6" cy="193.1" r="1.05"/><circle cx="432.0" cy="185.1" r="1.05"/><circle cx="440.7" cy="204.8" r="1.05"/><circle cx="438.4" cy="194.2" r="1.05"/><circle cx="421.1" cy="200.3" r="1.05"/><circle cx="425.2" cy="202.2" r="1.05"/><circle cx="424.0" cy="193.5" r="1.05"/><circle cx="438.8" cy="183.0" r="1.05"/><circle cx="431.7" cy="180.1" r="1.05"/><circle cx="418.8" cy="182.9" r="1.05"/><circle cx="442.7" cy="203.4" r="1.05"/><circle cx="434.5" cy="186.3" r="1.05"/><circle cx="434.8" cy="197.9" r="1.05"/><circle cx="427.5" cy="194.0" r="1.05"/><circle cx="438.1" cy="178.4" r="1.05"/><circle cx="423.0" cy="190.6" r="1.05"/><circle cx="421.6" cy="188.4" r="1.05"/><circle cx="432.2" cy="182.7" r="1.05"/><circle cx="431.0" cy="185.1" r="1.05"/><circle cx="432.2" cy="187.0" r="1.05"/><circle cx="453.2" cy="207.2" r="1.05"/><circle cx="451.7" cy="171.9" r="1.05"/><circle cx="456.9" cy="175.7" r="1.05"/><circle cx="429.6" cy="170.0" r="1.05"/><circle cx="439.0" cy="171.9" r="1.05"/><circle cx="439.0" cy="174.4" r="1.05"/><circle cx="428.4" cy="174.4" r="1.05"/><circle cx="431.3" cy="175.3" r="1.05"/><circle cx="428.0" cy="179.1" r="1.05"/><circle cx="441.0" cy="177.0" r="1.05"/><circle cx="446.0" cy="183.9" r="1.05"/><circle cx="437.0" cy="186.0" r="1.05"/><circle cx="434.0" cy="190.0" r="1.05"/><circle cx="444.0" cy="196.0" r="1.05"/><circle cx="442.0" cy="199.0" r="1.05"/><circle cx="421.0" cy="183.0" r="1.05"/><circle cx="416.0" cy="181.0" r="1.05"/><circle cx="415.5" cy="183.0" r="1.05"/><circle cx="419.0" cy="182.0" r="1.05"/><circle cx="380.0" cy="176.7" r="1.05"/><circle cx="391.2" cy="186.2" r="1.05"/><circle cx="363.3" cy="191.4" r="1.05"/><circle cx="393.3" cy="193.0" r="1.05"/><circle cx="376.5" cy="194.6" r="1.05"/><circle cx="380.0" cy="195.5" r="1.05"/><circle cx="392.0" cy="195.7" r="1.05"/><circle cx="365.2" cy="198.1" r="1.05"/><circle cx="370.6" cy="197.1" r="1.05"/><circle cx="382.0" cy="198.7" r="1.05"/><circle cx="392.2" cy="202.1" r="1.05"/><circle cx="363.3" cy="208.1" r="1.05"/><circle cx="387.8" cy="207.6" r="1.05"/><circle cx="392.0" cy="207.2" r="1.05"/><circle cx="392.9" cy="208.4" r="1.05"/><circle cx="391.6" cy="211.0" r="1.05"/><circle cx="393.5" cy="212.8" r="1.05"/><circle cx="385.1" cy="212.5" r="1.05"/><circle cx="387.6" cy="212.5" r="1.05"/><circle cx="392.6" cy="215.4" r="1.05"/><circle cx="392.0" cy="229.6" r="1.05"/><circle cx="392.5" cy="230.6" r="1.05"/><circle cx="392.7" cy="232.2" r="1.05"/><circle cx="394.0" cy="239.0" r="1.05"/><circle cx="391.7" cy="236.2" r="1.05"/><circle cx="392.4" cy="240.3" r="1.05"/><circle cx="393.1" cy="241.3" r="1.05"/><circle cx="391.8" cy="244.9" r="1.05"/><circle cx="393.4" cy="242.8" r="1.05"/><circle cx="391.4" cy="236.5" r="1.05"/><circle cx="392.2" cy="243.6" r="1.05"/><circle cx="392.0" cy="237.9" r="1.05"/><circle cx="391.5" cy="243.6" r="1.05"/><circle cx="391.0" cy="230.8" r="1.05"/><circle cx="392.9" cy="243.5" r="1.05"/><circle cx="392.9" cy="239.0" r="1.05"/><circle cx="393.0" cy="234.6" r="1.05"/><circle cx="392.3" cy="231.0" r="1.05"/><circle cx="390.1" cy="236.7" r="1.05"/><circle cx="391.9" cy="236.0" r="1.05"/><circle cx="389.7" cy="240.4" r="1.05"/><circle cx="392.0" cy="233.6" r="1.05"/><circle cx="390.9" cy="235.9" r="1.05"/><circle cx="390.6" cy="231.0" r="1.05"/><circle cx="393.8" cy="244.5" r="1.05"/><circle cx="392.6" cy="243.0" r="1.05"/><circle cx="391.5" cy="242.1" r="1.05"/><circle cx="390.5" cy="241.2" r="1.05"/><circle cx="392.2" cy="243.6" r="1.05"/><circle cx="390.0" cy="241.9" r="1.05"/><circle cx="390.1" cy="238.1" r="1.05"/><circle cx="394.0" cy="230.0" r="1.05"/><circle cx="390.6" cy="234.5" r="1.05"/><circle cx="391.0" cy="230.9" r="1.05"/><circle cx="393.7" cy="242.2" r="1.05"/><circle cx="391.4" cy="235.3" r="1.05"/><circle cx="392.3" cy="230.7" r="1.05"/><circle cx="389.6" cy="243.5" r="1.05"/><circle cx="390.9" cy="237.5" r="1.05"/><circle cx="393.9" cy="244.7" r="1.05"/><circle cx="391.7" cy="233.1" r="1.05"/><circle cx="390.9" cy="243.8" r="1.05"/><circle cx="393.7" cy="232.9" r="1.05"/><circle cx="393.4" cy="235.3" r="1.05"/><circle cx="391.7" cy="232.6" r="1.05"/><circle cx="393.6" cy="244.9" r="1.05"/><circle cx="390.4" cy="239.5" r="1.05"/><circle cx="390.4" cy="243.2" r="1.05"/><circle cx="389.7" cy="231.6" r="1.05"/><circle cx="392.9" cy="234.7" r="1.05"/><circle cx="393.7" cy="243.0" r="1.05"/><circle cx="392.9" cy="232.0" r="1.05"/><circle cx="392.8" cy="244.1" r="1.05"/><circle cx="391.6" cy="231.2" r="1.05"/><circle cx="390.5" cy="234.6" r="1.05"/><circle cx="392.8" cy="232.9" r="1.05"/><circle cx="390.4" cy="233.5" r="1.05"/><circle cx="392.6" cy="241.9" r="1.05"/><circle cx="391.3" cy="239.9" r="1.05"/><circle cx="393.7" cy="238.8" r="1.05"/><circle cx="390.6" cy="234.5" r="1.05"/><circle cx="393.9" cy="240.0" r="1.05"/><circle cx="390.8" cy="239.6" r="1.05"/><circle cx="389.9" cy="244.7" r="1.05"/><circle cx="391.6" cy="237.9" r="1.05"/><circle cx="392.0" cy="230.7" r="1.05"/><circle cx="392.3" cy="234.3" r="1.05"/><circle cx="390.7" cy="242.0" r="1.05"/><circle cx="389.9" cy="234.3" r="1.05"/><circle cx="393.1" cy="233.7" r="1.05"/><circle cx="390.8" cy="238.2" r="1.05"/><circle cx="390.4" cy="243.5" r="1.05"/><circle cx="394.1" cy="230.5" r="1.05"/><circle cx="391.7" cy="241.3" r="1.05"/><circle cx="391.3" cy="243.9" r="1.05"/><circle cx="391.8" cy="232.7" r="1.05"/><circle cx="388.4" cy="244.4" r="1.05"/><circle cx="387.8" cy="244.6" r="1.05"/><circle cx="389.2" cy="243.2" r="1.05"/><circle cx="388.3" cy="246.5" r="1.05"/><circle cx="388.9" cy="243.2" r="1.05"/><circle cx="389.8" cy="239.7" r="1.05"/><circle cx="389.2" cy="239.7" r="1.05"/><circle cx="388.6" cy="240.4" r="1.05"/><circle cx="388.0" cy="245.7" r="1.05"/><circle cx="389.3" cy="245.9" r="1.05"/><circle cx="387.3" cy="242.9" r="1.05"/><circle cx="387.3" cy="243.8" r="1.05"/><circle cx="381.9" cy="234.5" r="1.05"/><circle cx="386.2" cy="234.0" r="1.05"/><circle cx="390.8" cy="251.2" r="1.05"/><circle cx="388.8" cy="254.7" r="1.05"/><circle cx="393.3" cy="256.3" r="1.05"/><circle cx="392.7" cy="270.2" r="1.05"/></g>
<line x1="363.5" y1="235.4" x2="461.5" y2="171.01" stroke="#e0473c" stroke-width="0.8" />
<rect x="340.3" y="168.0" width="121.2" height="109.7" fill="none" stroke="#9a9a9a" stroke-width="0.9"/>
<line x1="338.5" y1="167.8" x2="340.3" y2="167.8" stroke="#888" stroke-width="0.7" />
<line x1="461.5" y1="277.7" x2="461.5" y2="279.5" stroke="#888" stroke-width="0.7" />
<line x1="338.5" y1="195.2" x2="340.3" y2="195.2" stroke="#888" stroke-width="0.7" />
<line x1="431.2" y1="277.7" x2="431.2" y2="279.5" stroke="#888" stroke-width="0.7" />
<line x1="338.5" y1="222.6" x2="340.3" y2="222.6" stroke="#888" stroke-width="0.7" />
<line x1="400.9" y1="277.7" x2="400.9" y2="279.5" stroke="#888" stroke-width="0.7" />
<line x1="338.5" y1="250" x2="340.3" y2="250" stroke="#888" stroke-width="0.7" />
<line x1="370.6" y1="277.7" x2="370.6" y2="279.5" stroke="#888" stroke-width="0.7" />
<line x1="338.5" y1="277.4" x2="340.3" y2="277.4" stroke="#888" stroke-width="0.7" />
<line x1="340.3" y1="277.7" x2="340.3" y2="279.5" stroke="#888" stroke-width="0.7" />
<text x="338.6" y="174.28" font-size="8" text-anchor="end" >8</text>
<text x="338.6" y="201.68" font-size="8" text-anchor="end" >4</text>
<text x="338.6" y="228.28" font-size="8" text-anchor="end" >0</text>
<text x="338.6" y="255.38" font-size="8" text-anchor="end" >-4</text>
<text x="338.6" y="281.48" font-size="8" text-anchor="end" >-8</text>
<text x="342.2" y="286.18" font-size="8" text-anchor="middle" >-8</text>
<text x="374.4" y="286.18" font-size="8" text-anchor="middle" >-4</text>
<text x="403.2" y="286.18" font-size="8" text-anchor="middle" >0</text>
<text x="433.1" y="286.18" font-size="8" text-anchor="middle" >4</text>
<text x="463" y="286.18" font-size="8" text-anchor="middle" >8</text>
<text x="365.4" y="295.0" font-size="8.2">Log<tspan font-size="5.6" dy="1.8">2</tspan><tspan dy="-1.8"> ( Fold Change )</tspan></text>
<text x="366.0" y="304.6" font-size="8.2">of <tspan font-style="italic">Eif2s2</tspan>-GcKO</text>
<text transform="translate(323.0 258.8) rotate(-90)" font-size="8.2">Log<tspan font-size="5.6" dy="1.5">2</tspan><tspan dy="-1.5"> ( Fold Change )</tspan></text>
<text transform="translate(330.9 258.6) rotate(-90)" font-size="8.1">of <tspan font-style="italic">Eif2s2</tspan>-ZcKO</text>
<text x="399.4" y="165.62" font-size="8.4" text-anchor="middle" >Pearson R = 0.68</text>
<text x="498.2" y="166.6" font-size="8.6" text-anchor="middle" font-weight="bold" >H</text>
<ellipse cx="551.9" cy="241.8" rx="60.2" ry="37.0" transform="rotate(40 551.9 241.8)" fill="#006400" fill-opacity="0.5"/>
<ellipse cx="571.6" cy="222.1" rx="59.3" ry="37.1" transform="rotate(40 571.6 222.1)" fill="#4b91c3" fill-opacity="0.5"/>
<ellipse cx="577.2" cy="222.1" rx="59.3" ry="37.1" transform="rotate(-40 577.2 222.1)" fill="#d14155" fill-opacity="0.5"/>
<ellipse cx="596.9" cy="241.8" rx="60.2" ry="37.0" transform="rotate(-40 596.9 241.8)" fill="#afcd19" fill-opacity="0.5"/>
<text x="540.7" y="189.4" font-size="6.1" text-anchor="middle" >92</text>
<text x="603.3" y="189.4" font-size="6.1" text-anchor="middle" >130</text>
<text x="574.5" y="199" font-size="6.1" text-anchor="middle" >0</text>
<text x="528.4" y="208.4" font-size="6.1" text-anchor="middle" >323</text>
<text x="619.8" y="208.4" font-size="6.1" text-anchor="middle" >49</text>
<text x="547.8" y="224.9" font-size="6.1" text-anchor="middle" >0</text>
<text x="602.4" y="224.9" font-size="6.1" text-anchor="middle" >0</text>
<text x="512.8" y="231.2" font-size="6.1" text-anchor="middle" >2986</text>
<text x="633.8" y="231.2" font-size="6.1" text-anchor="middle" >1153</text>
<text x="574.5" y="240.6" font-size="6.1" text-anchor="middle" >0</text>
<text x="537" y="254" font-size="6.1" text-anchor="middle" >23</text>
<text x="613.3" y="254" font-size="6.1" text-anchor="middle" >0</text>
<text x="553.2" y="263.9" font-size="6.1" text-anchor="middle" >0</text>
<text x="595.9" y="263.9" font-size="6.1" text-anchor="middle" >0</text>
<text x="574.5" y="279.6" font-size="6.1" text-anchor="middle" >0</text>
<text x="511.3" y="173.7" font-size="8.2"><tspan font-style="italic">Eif2s2</tspan>-ZcKO</text>
<text x="511.6" y="184.2" font-size="8.2" >up</text>
<text x="616.1" y="173.7" font-size="8.2"><tspan font-style="italic">Eif2s2</tspan>-ZcKO</text>
<text x="616.3" y="184.2" font-size="8.2" >down</text>
<text x="470.2" y="205.8" font-size="8.2"><tspan font-style="italic">Eif2s2</tspan>-GcKO</text>
<text x="472.8" y="216" font-size="8.2" >up</text>
<text x="635.7" y="209.2" font-size="8.2"><tspan font-style="italic">Eif2s2</tspan>-GcKO</text>
<text x="635.9" y="219.4" font-size="8.2" >down</text>
<text x="12.8" y="336.1" font-size="8.6" text-anchor="middle" font-weight="bold" >E</text>
<g shape-rendering="crispEdges"><rect x="45.20" y="342.20" width="11.97" height="8.17" fill="#da2828"/><rect x="45.20" y="350.07" width="11.97" height="8.17" fill="#dddef1"/><rect x="45.20" y="357.94" width="11.97" height="8.17" fill="#f8e0e3"/><rect x="45.20" y="365.81" width="11.97" height="8.17" fill="#a0a4d3"/><rect x="45.20" y="373.68" width="11.97" height="8.17" fill="#a0a4d3"/><rect x="45.20" y="381.55" width="11.97" height="8.17" fill="#a0a4d3"/><rect x="56.87" y="342.20" width="11.97" height="8.17" fill="#dc3a3b"/><rect x="56.87" y="350.07" width="11.97" height="8.17" fill="#e99ea5"/><rect x="56.87" y="357.94" width="11.97" height="8.17" fill="#fcf0f1"/><rect x="56.87" y="365.81" width="11.97" height="8.17" fill="#727abb"/><rect x="56.87" y="373.68" width="11.97" height="8.17" fill="#6b74b7"/><rect x="56.87" y="381.55" width="11.97" height="8.17" fill="#b9bce0"/><rect x="68.55" y="342.20" width="11.97" height="8.17" fill="#da2828"/><rect x="68.55" y="350.07" width="11.97" height="8.17" fill="#ffffff"/><rect x="68.55" y="357.94" width="11.97" height="8.17" fill="#c6c8e7"/><rect x="68.55" y="365.81" width="11.97" height="8.17" fill="#b9bce0"/><rect x="68.55" y="373.68" width="11.97" height="8.17" fill="#b9bce0"/><rect x="68.55" y="381.55" width="11.97" height="8.17" fill="#acb0d9"/><rect x="80.22" y="342.20" width="11.97" height="8.17" fill="#da2828"/><rect x="80.22" y="350.07" width="11.97" height="8.17" fill="#eca8ae"/><rect x="80.22" y="357.94" width="11.97" height="8.17" fill="#ffffff"/><rect x="80.22" y="365.81" width="11.97" height="8.17" fill="#acb0d9"/><rect x="80.22" y="373.68" width="11.97" height="8.17" fill="#727abb"/><rect x="80.22" y="381.55" width="11.97" height="8.17" fill="#868cc5"/><rect x="91.90" y="342.20" width="11.97" height="8.17" fill="#da2828"/><rect x="91.90" y="350.07" width="11.97" height="8.17" fill="#e8e9f5"/><rect x="91.90" y="357.94" width="11.97" height="8.17" fill="#c6c8e7"/><rect x="91.90" y="365.81" width="11.97" height="8.17" fill="#9398cc"/><rect x="91.90" y="373.68" width="11.97" height="8.17" fill="#9398cc"/><rect x="91.90" y="381.55" width="11.97" height="8.17" fill="#ffffff"/><rect x="103.57" y="342.20" width="11.97" height="8.17" fill="#e48a92"/><rect x="103.57" y="350.07" width="11.97" height="8.17" fill="#e0666b"/><rect x="103.57" y="357.94" width="11.97" height="8.17" fill="#e0666b"/><rect x="103.57" y="365.81" width="11.97" height="8.17" fill="#4956a7"/><rect x="103.57" y="373.68" width="11.97" height="8.17" fill="#727abb"/><rect x="103.57" y="381.55" width="11.97" height="8.17" fill="#d1d3ec"/><rect x="115.24" y="342.20" width="11.97" height="8.17" fill="#e06e75"/><rect x="115.24" y="350.07" width="11.97" height="8.17" fill="#da2828"/><rect x="115.24" y="357.94" width="11.97" height="8.17" fill="#9398cc"/><rect x="115.24" y="365.81" width="11.97" height="8.17" fill="#7f86c2"/><rect x="115.24" y="373.68" width="11.97" height="8.17" fill="#a0a4d3"/><rect x="115.24" y="381.55" width="11.97" height="8.17" fill="#d1d3ec"/><rect x="126.92" y="342.20" width="11.97" height="8.17" fill="#da2828"/><rect x="126.92" y="350.07" width="11.97" height="8.17" fill="#ffffff"/><rect x="126.92" y="357.94" width="11.97" height="8.17" fill="#b9bce0"/><rect x="126.92" y="365.81" width="11.97" height="8.17" fill="#c6c8e7"/><rect x="126.92" y="373.68" width="11.97" height="8.17" fill="#b9bce0"/><rect x="126.92" y="381.55" width="11.97" height="8.17" fill="#c6c8e7"/><rect x="138.59" y="342.20" width="11.97" height="8.17" fill="#dc3a3b"/><rect x="138.59" y="350.07" width="11.97" height="8.17" fill="#c6c8e7"/><rect x="138.59" y="357.94" width="11.97" height="8.17" fill="#e06e75"/><rect x="138.59" y="365.81" width="11.97" height="8.17" fill="#b9bce0"/><rect x="138.59" y="373.68" width="11.97" height="8.17" fill="#7880be"/><rect x="138.59" y="381.55" width="11.97" height="8.17" fill="#a0a4d3"/><rect x="150.27" y="342.20" width="11.97" height="8.17" fill="#f5d1d4"/><rect x="150.27" y="350.07" width="11.97" height="8.17" fill="#e28088"/><rect x="150.27" y="357.94" width="11.97" height="8.17" fill="#dc4245"/><rect x="150.27" y="365.81" width="11.97" height="8.17" fill="#acb0d9"/><rect x="150.27" y="373.68" width="11.97" height="8.17" fill="#4956a7"/><rect x="150.27" y="381.55" width="11.97" height="8.17" fill="#acb0d9"/><rect x="161.94" y="342.20" width="11.97" height="8.17" fill="#acb0d9"/><rect x="161.94" y="350.07" width="11.97" height="8.17" fill="#da2828"/><rect x="161.94" y="357.94" width="11.97" height="8.17" fill="#f1c1c6"/><rect x="161.94" y="365.81" width="11.97" height="8.17" fill="#b9bce0"/><rect x="161.94" y="373.68" width="11.97" height="8.17" fill="#acb0d9"/><rect x="161.94" y="381.55" width="11.97" height="8.17" fill="#acb0d9"/><rect x="173.61" y="342.20" width="11.97" height="8.17" fill="#dc3a3b"/><rect x="173.61" y="350.07" width="11.97" height="8.17" fill="#e06e75"/><rect x="173.61" y="357.94" width="11.97" height="8.17" fill="#7880be"/><rect x="173.61" y="365.81" width="11.97" height="8.17" fill="#acb0d9"/><rect x="173.61" y="373.68" width="11.97" height="8.17" fill="#a0a4d3"/><rect x="173.61" y="381.55" width="11.97" height="8.17" fill="#d1d3ec"/><rect x="185.29" y="342.20" width="11.97" height="8.17" fill="#e1777e"/><rect x="185.29" y="350.07" width="11.97" height="8.17" fill="#e8e9f5"/><rect x="185.29" y="357.94" width="11.97" height="8.17" fill="#dd4b4e"/><rect x="185.29" y="365.81" width="11.97" height="8.17" fill="#5662ae"/><rect x="185.29" y="373.68" width="11.97" height="8.17" fill="#505caa"/><rect x="185.29" y="381.55" width="11.97" height="8.17" fill="#fcf0f1"/><rect x="196.96" y="342.20" width="11.97" height="8.17" fill="#fdf7f8"/><rect x="196.96" y="350.07" width="11.97" height="8.17" fill="#db3132"/><rect x="196.96" y="357.94" width="11.97" height="8.17" fill="#eca8ae"/><rect x="196.96" y="365.81" width="11.97" height="8.17" fill="#a0a4d3"/><rect x="196.96" y="373.68" width="11.97" height="8.17" fill="#a0a4d3"/><rect x="196.96" y="381.55" width="11.97" height="8.17" fill="#646eb4"/><rect x="208.64" y="342.20" width="11.97" height="8.17" fill="#ffffff"/><rect x="208.64" y="350.07" width="11.97" height="8.17" fill="#da2828"/><rect x="208.64" y="357.94" width="11.97" height="8.17" fill="#ffffff"/><rect x="208.64" y="365.81" width="11.97" height="8.17" fill="#a0a4d3"/><rect x="208.64" y="373.68" width="11.97" height="8.17" fill="#a0a4d3"/><rect x="208.64" y="381.55" width="11.97" height="8.17" fill="#a0a4d3"/><rect x="220.31" y="342.20" width="11.97" height="8.17" fill="#da2828"/><rect x="220.31" y="350.07" width="11.97" height="8.17" fill="#d1d3ec"/><rect x="220.31" y="357.94" width="11.97" height="8.17" fill="#b9bce0"/><rect x="220.31" y="365.81" width="11.97" height="8.17" fill="#b9bce0"/><rect x="220.31" y="373.68" width="11.97" height="8.17" fill="#acb0d9"/><rect x="220.31" y="381.55" width="11.97" height="8.17" fill="#f4f4fa"/><rect x="231.98" y="342.20" width="11.97" height="8.17" fill="#dd4b4e"/><rect x="231.98" y="350.07" width="11.97" height="8.17" fill="#f5d1d4"/><rect x="231.98" y="357.94" width="11.97" height="8.17" fill="#e1777e"/><rect x="231.98" y="365.81" width="11.97" height="8.17" fill="#646eb4"/><rect x="231.98" y="373.68" width="11.97" height="8.17" fill="#868cc5"/><rect x="231.98" y="381.55" width="11.97" height="8.17" fill="#9398cc"/><rect x="243.66" y="342.20" width="11.97" height="8.17" fill="#da2828"/><rect x="243.66" y="350.07" width="11.97" height="8.17" fill="#f6d8dc"/><rect x="243.66" y="357.94" width="11.97" height="8.17" fill="#f6d8dc"/><rect x="243.66" y="365.81" width="11.97" height="8.17" fill="#868cc5"/><rect x="243.66" y="373.68" width="11.97" height="8.17" fill="#868cc5"/><rect x="243.66" y="381.55" width="11.97" height="8.17" fill="#b9bce0"/><rect x="255.33" y="342.20" width="11.97" height="8.17" fill="#da2828"/><rect x="255.33" y="350.07" width="11.97" height="8.17" fill="#e8e9f5"/><rect x="255.33" y="357.94" width="11.97" height="8.17" fill="#b9bce0"/><rect x="255.33" y="365.81" width="11.97" height="8.17" fill="#b9bce0"/><rect x="255.33" y="373.68" width="11.97" height="8.17" fill="#c6c8e7"/><rect x="255.33" y="381.55" width="11.97" height="8.17" fill="#c6c8e7"/><rect x="267.01" y="342.20" width="11.97" height="8.17" fill="#e99ea5"/><rect x="267.01" y="350.07" width="11.97" height="8.17" fill="#da2828"/><rect x="267.01" y="357.94" width="11.97" height="8.17" fill="#b9bce0"/><rect x="267.01" y="365.81" width="11.97" height="8.17" fill="#b9bce0"/><rect x="267.01" y="373.68" width="11.97" height="8.17" fill="#acb0d9"/><rect x="267.01" y="381.55" width="11.97" height="8.17" fill="#868cc5"/><rect x="278.68" y="342.20" width="11.97" height="8.17" fill="#e99ea5"/><rect x="278.68" y="350.07" width="11.97" height="8.17" fill="#df5d62"/><rect x="278.68" y="357.94" width="11.97" height="8.17" fill="#e7949b"/><rect x="278.68" y="365.81" width="11.97" height="8.17" fill="#505caa"/><rect x="278.68" y="373.68" width="11.97" height="8.17" fill="#646eb4"/><rect x="278.68" y="381.55" width="11.97" height="8.17" fill="#f4f4fa"/><rect x="290.35" y="342.20" width="11.97" height="8.17" fill="#dc3a3b"/><rect x="290.35" y="350.07" width="11.97" height="8.17" fill="#e28088"/><rect x="290.35" y="357.94" width="11.97" height="8.17" fill="#a0a4d3"/><rect x="290.35" y="365.81" width="11.97" height="8.17" fill="#d1d3ec"/><rect x="290.35" y="373.68" width="11.97" height="8.17" fill="#cccee9"/><rect x="290.35" y="381.55" width="11.97" height="8.17" fill="#6b74b7"/><rect x="302.03" y="342.20" width="11.97" height="8.17" fill="#e48a92"/><rect x="302.03" y="350.07" width="11.97" height="8.17" fill="#e0666b"/><rect x="302.03" y="357.94" width="11.97" height="8.17" fill="#e48a92"/><rect x="302.03" y="365.81" width="11.97" height="8.17" fill="#c6c8e7"/><rect x="302.03" y="373.68" width="11.97" height="8.17" fill="#5d68b1"/><rect x="302.03" y="381.55" width="11.97" height="8.17" fill="#727abb"/><rect x="313.70" y="342.20" width="11.97" height="8.17" fill="#eeb2b8"/><rect x="313.70" y="350.07" width="11.97" height="8.17" fill="#de5458"/><rect x="313.70" y="357.94" width="11.97" height="8.17" fill="#e48a92"/><rect x="313.70" y="365.81" width="11.97" height="8.17" fill="#5d68b1"/><rect x="313.70" y="373.68" width="11.97" height="8.17" fill="#9398cc"/><rect x="313.70" y="381.55" width="11.97" height="8.17" fill="#c6c8e7"/><rect x="325.38" y="342.20" width="11.97" height="8.17" fill="#da2828"/><rect x="325.38" y="350.07" width="11.97" height="8.17" fill="#e99ea5"/><rect x="325.38" y="357.94" width="11.97" height="8.17" fill="#dddef1"/><rect x="325.38" y="365.81" width="11.97" height="8.17" fill="#6b74b7"/><rect x="325.38" y="373.68" width="11.97" height="8.17" fill="#b9bce0"/><rect x="325.38" y="381.55" width="11.97" height="8.17" fill="#c6c8e7"/><rect x="337.05" y="342.20" width="11.97" height="8.17" fill="#eca8ae"/><rect x="337.05" y="350.07" width="11.97" height="8.17" fill="#da2828"/><rect x="337.05" y="357.94" width="11.97" height="8.17" fill="#9398cc"/><rect x="337.05" y="365.81" width="11.97" height="8.17" fill="#acb0d9"/><rect x="337.05" y="373.68" width="11.97" height="8.17" fill="#d1d3ec"/><rect x="337.05" y="381.55" width="11.97" height="8.17" fill="#9398cc"/><rect x="348.72" y="342.20" width="11.97" height="8.17" fill="#e28088"/><rect x="348.72" y="350.07" width="11.97" height="8.17" fill="#eca8ae"/><rect x="348.72" y="357.94" width="11.97" height="8.17" fill="#e06e75"/><rect x="348.72" y="365.81" width="11.97" height="8.17" fill="#4956a7"/><rect x="348.72" y="373.68" width="11.97" height="8.17" fill="#a0a4d3"/><rect x="348.72" y="381.55" width="11.97" height="8.17" fill="#f9fafd"/><rect x="360.40" y="342.20" width="11.97" height="8.17" fill="#da2828"/><rect x="360.40" y="350.07" width="11.97" height="8.17" fill="#eca8ae"/><rect x="360.40" y="357.94" width="11.97" height="8.17" fill="#e8e9f5"/><rect x="360.40" y="365.81" width="11.97" height="8.17" fill="#7880be"/><rect x="360.40" y="373.68" width="11.97" height="8.17" fill="#acb0d9"/><rect x="360.40" y="381.55" width="11.97" height="8.17" fill="#acb0d9"/><rect x="372.07" y="342.20" width="11.97" height="8.17" fill="#dc3a3b"/><rect x="372.07" y="350.07" width="11.97" height="8.17" fill="#e1777e"/><rect x="372.07" y="357.94" width="11.97" height="8.17" fill="#a6aad6"/><rect x="372.07" y="365.81" width="11.97" height="8.17" fill="#acb0d9"/><rect x="372.07" y="373.68" width="11.97" height="8.17" fill="#7f86c2"/><rect x="372.07" y="381.55" width="11.97" height="8.17" fill="#c6c8e7"/><rect x="383.75" y="342.20" width="11.97" height="8.17" fill="#e1777e"/><rect x="383.75" y="350.07" width="11.97" height="8.17" fill="#e1777e"/><rect x="383.75" y="357.94" width="11.97" height="8.17" fill="#e1777e"/><rect x="383.75" y="365.81" width="11.97" height="8.17" fill="#5662ae"/><rect x="383.75" y="373.68" width="11.97" height="8.17" fill="#7f86c2"/><rect x="383.75" y="381.55" width="11.97" height="8.17" fill="#9398cc"/><rect x="395.42" y="342.20" width="11.97" height="8.17" fill="#de5458"/><rect x="395.42" y="350.07" width="11.97" height="8.17" fill="#f1c1c6"/><rect x="395.42" y="357.94" width="11.97" height="8.17" fill="#e1777e"/><rect x="395.42" y="365.81" width="11.97" height="8.17" fill="#5662ae"/><rect x="395.42" y="373.68" width="11.97" height="8.17" fill="#7f86c2"/><rect x="395.42" y="381.55" width="11.97" height="8.17" fill="#c6c8e7"/><rect x="407.09" y="342.20" width="11.97" height="8.17" fill="#da2828"/><rect x="407.09" y="350.07" width="11.97" height="8.17" fill="#e8e9f5"/><rect x="407.09" y="357.94" width="11.97" height="8.17" fill="#eeb2b8"/><rect x="407.09" y="365.81" width="11.97" height="8.17" fill="#e8e9f5"/><rect x="407.09" y="373.68" width="11.97" height="8.17" fill="#7f86c2"/><rect x="407.09" y="381.55" width="11.97" height="8.17" fill="#727abb"/><rect x="418.77" y="342.20" width="11.97" height="8.17" fill="#de5458"/><rect x="418.77" y="350.07" width="11.97" height="8.17" fill="#e06e75"/><rect x="418.77" y="357.94" width="11.97" height="8.17" fill="#868cc5"/><rect x="418.77" y="365.81" width="11.97" height="8.17" fill="#9398cc"/><rect x="418.77" y="373.68" width="11.97" height="8.17" fill="#5d68b1"/><rect x="418.77" y="381.55" width="11.97" height="8.17" fill="#eca8ae"/><rect x="430.44" y="342.20" width="11.97" height="8.17" fill="#da2828"/><rect x="430.44" y="350.07" width="11.97" height="8.17" fill="#f5d1d4"/><rect x="430.44" y="357.94" width="11.97" height="8.17" fill="#a0a4d3"/><rect x="430.44" y="365.81" width="11.97" height="8.17" fill="#acb0d9"/><rect x="430.44" y="373.68" width="11.97" height="8.17" fill="#a0a4d3"/><rect x="430.44" y="381.55" width="11.97" height="8.17" fill="#d1d3ec"/><rect x="442.12" y="342.20" width="11.97" height="8.17" fill="#eeb2b8"/><rect x="442.12" y="350.07" width="11.97" height="8.17" fill="#da2828"/><rect x="442.12" y="357.94" width="11.97" height="8.17" fill="#a0a4d3"/><rect x="442.12" y="365.81" width="11.97" height="8.17" fill="#7f86c2"/><rect x="442.12" y="373.68" width="11.97" height="8.17" fill="#f4f4fa"/><rect x="442.12" y="381.55" width="11.97" height="8.17" fill="#a0a4d3"/><rect x="453.79" y="342.20" width="11.97" height="8.17" fill="#de5458"/><rect x="453.79" y="350.07" width="11.97" height="8.17" fill="#e7949b"/><rect x="453.79" y="357.94" width="11.97" height="8.17" fill="#eca8ae"/><rect x="453.79" y="365.81" width="11.97" height="8.17" fill="#5662ae"/><rect x="453.79" y="373.68" width="11.97" height="8.17" fill="#5662ae"/><rect x="453.79" y="381.55" width="11.97" height="8.17" fill="#e2e4f3"/><rect x="465.46" y="342.20" width="11.97" height="8.17" fill="#da2828"/><rect x="465.46" y="350.07" width="11.97" height="8.17" fill="#fdf7f8"/><rect x="465.46" y="357.94" width="11.97" height="8.17" fill="#f5d1d4"/><rect x="465.46" y="365.81" width="11.97" height="8.17" fill="#7880be"/><rect x="465.46" y="373.68" width="11.97" height="8.17" fill="#f4f4fa"/><rect x="465.46" y="381.55" width="11.97" height="8.17" fill="#5662ae"/><rect x="477.14" y="342.20" width="11.97" height="8.17" fill="#a0a4d3"/><rect x="477.14" y="350.07" width="11.97" height="8.17" fill="#e1777e"/><rect x="477.14" y="357.94" width="11.97" height="8.17" fill="#da2828"/><rect x="477.14" y="365.81" width="11.97" height="8.17" fill="#e8e9f5"/><rect x="477.14" y="373.68" width="11.97" height="8.17" fill="#7f86c2"/><rect x="477.14" y="381.55" width="11.97" height="8.17" fill="#a0a4d3"/><rect x="488.81" y="342.20" width="11.97" height="8.17" fill="#dd4b4e"/><rect x="488.81" y="350.07" width="11.97" height="8.17" fill="#df5d62"/><rect x="488.81" y="357.94" width="11.97" height="8.17" fill="#9398cc"/><rect x="488.81" y="365.81" width="11.97" height="8.17" fill="#9398cc"/><rect x="488.81" y="373.68" width="11.97" height="8.17" fill="#868cc5"/><rect x="488.81" y="381.55" width="11.97" height="8.17" fill="#d1d3ec"/><rect x="500.49" y="342.20" width="11.97" height="8.17" fill="#da2828"/><rect x="500.49" y="350.07" width="11.97" height="8.17" fill="#dddef1"/><rect x="500.49" y="357.94" width="11.97" height="8.17" fill="#eeb2b8"/><rect x="500.49" y="365.81" width="11.97" height="8.17" fill="#9398cc"/><rect x="500.49" y="373.68" width="11.97" height="8.17" fill="#868cc5"/><rect x="500.49" y="381.55" width="11.97" height="8.17" fill="#c6c8e7"/><rect x="512.16" y="342.20" width="11.97" height="8.17" fill="#9398cc"/><rect x="512.16" y="350.07" width="11.97" height="8.17" fill="#db3132"/><rect x="512.16" y="357.94" width="11.97" height="8.17" fill="#e0666b"/><rect x="512.16" y="365.81" width="11.97" height="8.17" fill="#9398cc"/><rect x="512.16" y="373.68" width="11.97" height="8.17" fill="#a0a4d3"/><rect x="512.16" y="381.55" width="11.97" height="8.17" fill="#a0a4d3"/><rect x="523.83" y="342.20" width="11.97" height="8.17" fill="#da2828"/><rect x="523.83" y="350.07" width="11.97" height="8.17" fill="#d1d3ec"/><rect x="523.83" y="357.94" width="11.97" height="8.17" fill="#fcf0f1"/><rect x="523.83" y="365.81" width="11.97" height="8.17" fill="#c6c8e7"/><rect x="523.83" y="373.68" width="11.97" height="8.17" fill="#a0a4d3"/><rect x="523.83" y="381.55" width="11.97" height="8.17" fill="#b9bce0"/><rect x="535.51" y="342.20" width="11.97" height="8.17" fill="#da2828"/><rect x="535.51" y="350.07" width="11.97" height="8.17" fill="#e8e9f5"/><rect x="535.51" y="357.94" width="11.97" height="8.17" fill="#eeb2b8"/><rect x="535.51" y="365.81" width="11.97" height="8.17" fill="#6b74b7"/><rect x="535.51" y="373.68" width="11.97" height="8.17" fill="#a6aad6"/><rect x="535.51" y="381.55" width="11.97" height="8.17" fill="#c6c8e7"/><rect x="547.18" y="342.20" width="11.97" height="8.17" fill="#de5458"/><rect x="547.18" y="350.07" width="11.97" height="8.17" fill="#f8e0e3"/><rect x="547.18" y="357.94" width="11.97" height="8.17" fill="#e48a92"/><rect x="547.18" y="365.81" width="11.97" height="8.17" fill="#505caa"/><rect x="547.18" y="373.68" width="11.97" height="8.17" fill="#acb0d9"/><rect x="547.18" y="381.55" width="11.97" height="8.17" fill="#dddef1"/><rect x="558.86" y="342.20" width="11.97" height="8.17" fill="#da2828"/><rect x="558.86" y="350.07" width="11.97" height="8.17" fill="#f9fafd"/><rect x="558.86" y="357.94" width="11.97" height="8.17" fill="#e8e9f5"/><rect x="558.86" y="365.81" width="11.97" height="8.17" fill="#a0a4d3"/><rect x="558.86" y="373.68" width="11.97" height="8.17" fill="#9398cc"/><rect x="558.86" y="381.55" width="11.97" height="8.17" fill="#d1d3ec"/><rect x="570.53" y="342.20" width="11.97" height="8.17" fill="#e1777e"/><rect x="570.53" y="350.07" width="11.97" height="8.17" fill="#fdf7f8"/><rect x="570.53" y="357.94" width="11.97" height="8.17" fill="#dc4245"/><rect x="570.53" y="365.81" width="11.97" height="8.17" fill="#868cc5"/><rect x="570.53" y="373.68" width="11.97" height="8.17" fill="#6b74b7"/><rect x="570.53" y="381.55" width="11.97" height="8.17" fill="#acb0d9"/><rect x="582.20" y="342.20" width="11.97" height="8.17" fill="#eca8ae"/><rect x="582.20" y="350.07" width="11.97" height="8.17" fill="#dc4245"/><rect x="582.20" y="357.94" width="11.97" height="8.17" fill="#eca8ae"/><rect x="582.20" y="365.81" width="11.97" height="8.17" fill="#5662ae"/><rect x="582.20" y="373.68" width="11.97" height="8.17" fill="#7880be"/><rect x="582.20" y="381.55" width="11.97" height="8.17" fill="#e8e9f5"/><rect x="593.88" y="342.20" width="11.97" height="8.17" fill="#dc3a3b"/><rect x="593.88" y="350.07" width="11.97" height="8.17" fill="#dddef1"/><rect x="593.88" y="357.94" width="11.97" height="8.17" fill="#e1777e"/><rect x="593.88" y="365.81" width="11.97" height="8.17" fill="#9398cc"/><rect x="593.88" y="373.68" width="11.97" height="8.17" fill="#5662ae"/><rect x="593.88" y="381.55" width="11.97" height="8.17" fill="#d1d3ec"/><rect x="605.55" y="342.20" width="11.97" height="8.17" fill="#de5458"/><rect x="605.55" y="350.07" width="11.97" height="8.17" fill="#e1777e"/><rect x="605.55" y="357.94" width="11.97" height="8.17" fill="#eca8ae"/><rect x="605.55" y="365.81" width="11.97" height="8.17" fill="#868cc5"/><rect x="605.55" y="373.68" width="11.97" height="8.17" fill="#727abb"/><rect x="605.55" y="381.55" width="11.97" height="8.17" fill="#7f86c2"/><rect x="617.23" y="342.20" width="11.97" height="8.17" fill="#fdf7f8"/><rect x="617.23" y="350.07" width="11.97" height="8.17" fill="#eeeef8"/><rect x="617.23" y="357.94" width="11.97" height="8.17" fill="#da2828"/><rect x="617.23" y="365.81" width="11.97" height="8.17" fill="#a0a4d3"/><rect x="617.23" y="373.68" width="11.97" height="8.17" fill="#a0a4d3"/><rect x="617.23" y="381.55" width="11.97" height="8.17" fill="#9398cc"/><rect x="628.90" y="342.20" width="11.97" height="8.17" fill="#da2828"/><rect x="628.90" y="350.07" width="11.97" height="8.17" fill="#f6d8dc"/><rect x="628.90" y="357.94" width="11.97" height="8.17" fill="#a0a4d3"/><rect x="628.90" y="365.81" width="11.97" height="8.17" fill="#a0a4d3"/><rect x="628.90" y="373.68" width="11.97" height="8.17" fill="#868cc5"/><rect x="628.90" y="381.55" width="11.97" height="8.17" fill="#fdf7f8"/><rect x="640.57" y="342.20" width="11.97" height="8.17" fill="#da2828"/><rect x="640.57" y="350.07" width="11.97" height="8.17" fill="#ffffff"/><rect x="640.57" y="357.94" width="11.97" height="8.17" fill="#eca8ae"/><rect x="640.57" y="365.81" width="11.97" height="8.17" fill="#a0a4d3"/><rect x="640.57" y="373.68" width="11.97" height="8.17" fill="#868cc5"/><rect x="640.57" y="381.55" width="11.97" height="8.17" fill="#7880be"/><rect x="652.25" y="342.20" width="11.97" height="8.17" fill="#da2828"/><rect x="652.25" y="350.07" width="11.97" height="8.17" fill="#fae8ea"/><rect x="652.25" y="357.94" width="11.97" height="8.17" fill="#f5d1d4"/><rect x="652.25" y="365.81" width="11.97" height="8.17" fill="#a0a4d3"/><rect x="652.25" y="373.68" width="11.97" height="8.17" fill="#5d68b1"/><rect x="652.25" y="381.55" width="11.97" height="8.17" fill="#b9bce0"/></g>
<rect x="42.3" y="342.2" width="1.3" height="23.61" fill="#5d8fd2" />
<rect x="42.3" y="365.81" width="1.3" height="23.61" fill="#e8636a" />
<text x="52.84" y="340.3" font-size="8.3" font-style="italic" transform="rotate(-90 52.84 340.3)" >Cd44</text>
<text x="64.51" y="340.3" font-size="8.3" font-style="italic" transform="rotate(-90 64.51 340.3)" >Cobl</text>
<text x="76.19" y="340.3" font-size="8.3" font-style="italic" transform="rotate(-90 76.19 340.3)" >Cyp7b1</text>
<text x="87.86" y="340.3" font-size="8.3" font-style="italic" transform="rotate(-90 87.86 340.3)" >Dkk3</text>
<text x="99.53" y="340.3" font-size="8.3" font-style="italic" transform="rotate(-90 99.53 340.3)" >Edar</text>
<text x="111.21" y="340.3" font-size="8.3" font-style="italic" transform="rotate(-90 111.21 340.3)" >Flrt3</text>
<text x="122.88" y="340.3" font-size="8.3" font-style="italic" transform="rotate(-90 122.88 340.3)" >Impact</text>
<text x="134.56" y="340.3" font-size="8.3" font-style="italic" transform="rotate(-90 134.56 340.3)" >Notch2</text>
<text x="146.23" y="340.3" font-size="8.3" font-style="italic" transform="rotate(-90 146.23 340.3)" >Ntn1</text>
<text x="157.9" y="340.3" font-size="8.3" font-style="italic" transform="rotate(-90 157.9 340.3)" >Plxnd1</text>
<text x="169.58" y="340.3" font-size="8.3" font-style="italic" transform="rotate(-90 169.58 340.3)" >Prss30</text>
<text x="181.25" y="340.3" font-size="8.3" font-style="italic" transform="rotate(-90 181.25 340.3)" >Rad21l</text>
<text x="192.93" y="340.3" font-size="8.3" font-style="italic" transform="rotate(-90 192.93 340.3)" >Rhobtb3</text>
<text x="204.6" y="340.3" font-size="8.3" font-style="italic" transform="rotate(-90 204.6 340.3)" >Rnase10</text>
<text x="216.27" y="340.3" font-size="8.3" font-style="italic" transform="rotate(-90 216.27 340.3)" >Rnf157</text>
<text x="227.95" y="340.3" font-size="8.3" font-style="italic" transform="rotate(-90 227.95 340.3)" >Schip1</text>
<text x="239.62" y="340.3" font-size="8.3" font-style="italic" transform="rotate(-90 239.62 340.3)" >Sema3d</text>
<text x="251.3" y="340.3" font-size="8.3" font-style="italic" transform="rotate(-90 251.3 340.3)" >Sema3e</text>
<text x="262.97" y="340.3" font-size="8.3" font-style="italic" transform="rotate(-90 262.97 340.3)" >Sema4b</text>
<text x="274.64" y="340.3" font-size="8.3" font-style="italic" transform="rotate(-90 274.64 340.3)" >Slit1</text>
<text x="286.32" y="340.3" font-size="8.3" font-style="italic" transform="rotate(-90 286.32 340.3)" >Tll7</text>
<text x="297.99" y="340.3" font-size="8.3" font-style="italic" transform="rotate(-90 297.99 340.3)" >Twsg1</text>
<text x="309.66" y="340.3" font-size="8.3" font-style="italic" transform="rotate(-90 309.66 340.3)" >Wif1</text>
<text x="321.34" y="340.3" font-size="8.3" font-style="italic" transform="rotate(-90 321.34 340.3)" >Wls</text>
<text x="333.01" y="340.3" font-size="8.3" font-style="italic" transform="rotate(-90 333.01 340.3)" >Wnt2</text>
<text x="344.69" y="340.3" font-size="8.3" font-style="italic" transform="rotate(-90 344.69 340.3)" >Znrf3</text>
<text x="356.36" y="340.3" font-size="8.3" font-style="italic" transform="rotate(-90 356.36 340.3)" >Angpt1</text>
<text x="368.03" y="340.3" font-size="8.3" font-style="italic" transform="rotate(-90 368.03 340.3)" >Erbb3</text>
<text x="379.71" y="340.3" font-size="8.3" font-style="italic" transform="rotate(-90 379.71 340.3)" >Fgfrl1</text>
<text x="391.38" y="340.3" font-size="8.3" font-style="italic" transform="rotate(-90 391.38 340.3)" >Flt1</text>
<text x="403.06" y="340.3" font-size="8.3" font-style="italic" transform="rotate(-90 403.06 340.3)" >Frk</text>
<text x="414.73" y="340.3" font-size="8.3" font-style="italic" transform="rotate(-90 414.73 340.3)" >Hbegf</text>
<text x="426.4" y="340.3" font-size="8.3" font-style="italic" transform="rotate(-90 426.4 340.3)" >Klhl9</text>
<text x="438.08" y="340.3" font-size="8.3" font-style="italic" transform="rotate(-90 438.08 340.3)" >Map3k1</text>
<text x="449.75" y="340.3" font-size="8.3" font-style="italic" transform="rotate(-90 449.75 340.3)" >Map3k21</text>
<text x="461.43" y="340.3" font-size="8.3" font-style="italic" transform="rotate(-90 461.43 340.3)" >Ntrk3</text>
<text x="473.1" y="340.3" font-size="8.3" font-style="italic" transform="rotate(-90 473.1 340.3)" >Socs3</text>
<text x="484.77" y="340.3" font-size="8.3" font-style="italic" transform="rotate(-90 484.77 340.3)" >Stambpl1</text>
<text x="496.45" y="340.3" font-size="8.3" font-style="italic" transform="rotate(-90 496.45 340.3)" >Uchl4</text>
<text x="508.12" y="340.3" font-size="8.3" font-style="italic" transform="rotate(-90 508.12 340.3)" >Usp17le</text>
<text x="519.8" y="340.3" font-size="8.3" font-style="italic" transform="rotate(-90 519.8 340.3)" >Agtr1b</text>
<text x="531.47" y="340.3" font-size="8.3" font-style="italic" transform="rotate(-90 531.47 340.3)" >Ahnak</text>
<text x="543.14" y="340.3" font-size="8.3" font-style="italic" transform="rotate(-90 543.14 340.3)" >Akap6</text>
<text x="554.82" y="340.3" font-size="8.3" font-style="italic" transform="rotate(-90 554.82 340.3)" >Ccl28</text>
<text x="566.49" y="340.3" font-size="8.3" font-style="italic" transform="rotate(-90 566.49 340.3)" >Cnga1</text>
<text x="578.17" y="340.3" font-size="8.3" font-style="italic" transform="rotate(-90 578.17 340.3)" >Cxcr3</text>
<text x="589.84" y="340.3" font-size="8.3" font-style="italic" transform="rotate(-90 589.84 340.3)" >F2r</text>
<text x="601.51" y="340.3" font-size="8.3" font-style="italic" transform="rotate(-90 601.51 340.3)" >Hrh2</text>
<text x="613.19" y="340.3" font-size="8.3" font-style="italic" transform="rotate(-90 613.19 340.3)" >Htr7</text>
<text x="624.86" y="340.3" font-size="8.3" font-style="italic" transform="rotate(-90 624.86 340.3)" >Kcna5</text>
<text x="636.54" y="340.3" font-size="8.3" font-style="italic" transform="rotate(-90 636.54 340.3)" >Micu3</text>
<text x="648.21" y="340.3" font-size="8.3" font-style="italic" transform="rotate(-90 648.21 340.3)" >Nos1ap</text>
<text x="659.88" y="340.3" font-size="8.3" font-style="italic" transform="rotate(-90 659.88 340.3)" >Tfap2b</text>
<line x1="45.2" y1="391.2" x2="347.92" y2="391.2" stroke="#222" stroke-width="0.9" />
<line x1="349.52" y1="391.2" x2="511.36" y2="391.2" stroke="#222" stroke-width="0.9" />
<line x1="512.96" y1="391.2" x2="663.92" y2="391.2" stroke="#222" stroke-width="0.9" />
<text x="194.2" y="399.62" font-size="8.1" text-anchor="middle" >Oocyte development</text>
<text x="432.3" y="399.62" font-size="8.1" text-anchor="middle" >Ubiquitination and proteolysis</text>
<text x="593.5" y="399.62" font-size="8.1" text-anchor="middle" >Calcium ion homeostasis</text>
<rect x="666.5" y="318.2" width="4.5" height="69.2" fill="url(#gH)"/>
<text x="672.8" y="325.88" font-size="8" >2</text>
<text x="672.8" y="341.28" font-size="8" >1</text>
<text x="672.8" y="355.78" font-size="8" >0</text>
<text x="672.8" y="371.18" font-size="8" >-1</text>
<text x="672.8" y="386.08" font-size="8" >-2</text>
<text transform="translate(37.6 360.9) rotate(-45)" font-size="8.2" text-anchor="middle">WT</text>
<text transform="translate(43.0 376.6) rotate(-45)" font-size="8.2" text-anchor="end"><tspan font-style="italic">Eif2s2</tspan>-ZcKO</text>
<text x="12.4" y="436.4" font-size="8.6" text-anchor="middle" font-weight="bold" >F</text>
<g shape-rendering="crispEdges"><rect x="47.70" y="446.80" width="12.15" height="8.17" fill="#868cc5"/><rect x="47.70" y="454.67" width="12.15" height="8.17" fill="#7880be"/><rect x="47.70" y="462.54" width="12.15" height="8.17" fill="#868cc5"/><rect x="47.70" y="470.41" width="12.15" height="8.17" fill="#e06e75"/><rect x="47.70" y="478.28" width="12.15" height="8.17" fill="#dd4b4e"/><rect x="47.70" y="486.15" width="12.15" height="8.17" fill="#fcf0f1"/><rect x="59.55" y="446.80" width="12.15" height="8.17" fill="#727abb"/><rect x="59.55" y="454.67" width="12.15" height="8.17" fill="#727abb"/><rect x="59.55" y="462.54" width="12.15" height="8.17" fill="#9398cc"/><rect x="59.55" y="470.41" width="12.15" height="8.17" fill="#e1777e"/><rect x="59.55" y="478.28" width="12.15" height="8.17" fill="#e06e75"/><rect x="59.55" y="486.15" width="12.15" height="8.17" fill="#e99ea5"/><rect x="71.40" y="446.80" width="12.15" height="8.17" fill="#868cc5"/><rect x="71.40" y="454.67" width="12.15" height="8.17" fill="#d1d3ec"/><rect x="71.40" y="462.54" width="12.15" height="8.17" fill="#505caa"/><rect x="71.40" y="470.41" width="12.15" height="8.17" fill="#ffffff"/><rect x="71.40" y="478.28" width="12.15" height="8.17" fill="#de5458"/><rect x="71.40" y="486.15" width="12.15" height="8.17" fill="#e1777e"/><rect x="83.25" y="446.80" width="12.15" height="8.17" fill="#868cc5"/><rect x="83.25" y="454.67" width="12.15" height="8.17" fill="#7f86c2"/><rect x="83.25" y="462.54" width="12.15" height="8.17" fill="#7f86c2"/><rect x="83.25" y="470.41" width="12.15" height="8.17" fill="#e48a92"/><rect x="83.25" y="478.28" width="12.15" height="8.17" fill="#dc4245"/><rect x="83.25" y="486.15" width="12.15" height="8.17" fill="#f1c1c6"/><rect x="95.10" y="446.80" width="12.15" height="8.17" fill="#727abb"/><rect x="95.10" y="454.67" width="12.15" height="8.17" fill="#9398cc"/><rect x="95.10" y="462.54" width="12.15" height="8.17" fill="#a0a4d3"/><rect x="95.10" y="470.41" width="12.15" height="8.17" fill="#e0666b"/><rect x="95.10" y="478.28" width="12.15" height="8.17" fill="#de5458"/><rect x="95.10" y="486.15" width="12.15" height="8.17" fill="#fdf7f8"/><rect x="106.95" y="446.80" width="12.15" height="8.17" fill="#7880be"/><rect x="106.95" y="454.67" width="12.15" height="8.17" fill="#7f86c2"/><rect x="106.95" y="462.54" width="12.15" height="8.17" fill="#9398cc"/><rect x="106.95" y="470.41" width="12.15" height="8.17" fill="#de5458"/><rect x="106.95" y="478.28" width="12.15" height="8.17" fill="#e1777e"/><rect x="106.95" y="486.15" width="12.15" height="8.17" fill="#f6d8dc"/><rect x="118.80" y="446.80" width="12.15" height="8.17" fill="#7f86c2"/><rect x="118.80" y="454.67" width="12.15" height="8.17" fill="#a0a4d3"/><rect x="118.80" y="462.54" width="12.15" height="8.17" fill="#a0a4d3"/><rect x="118.80" y="470.41" width="12.15" height="8.17" fill="#f1c1c6"/><rect x="118.80" y="478.28" width="12.15" height="8.17" fill="#da2828"/><rect x="118.80" y="486.15" width="12.15" height="8.17" fill="#fcf0f1"/><rect x="130.65" y="446.80" width="12.15" height="8.17" fill="#b9bce0"/><rect x="130.65" y="454.67" width="12.15" height="8.17" fill="#9398cc"/><rect x="130.65" y="462.54" width="12.15" height="8.17" fill="#868cc5"/><rect x="130.65" y="470.41" width="12.15" height="8.17" fill="#da2828"/><rect x="130.65" y="478.28" width="12.15" height="8.17" fill="#e8e9f5"/><rect x="130.65" y="486.15" width="12.15" height="8.17" fill="#eca8ae"/><rect x="142.50" y="446.80" width="12.15" height="8.17" fill="#c6c8e7"/><rect x="142.50" y="454.67" width="12.15" height="8.17" fill="#727abb"/><rect x="142.50" y="462.54" width="12.15" height="8.17" fill="#7880be"/><rect x="142.50" y="470.41" width="12.15" height="8.17" fill="#dc3a3b"/><rect x="142.50" y="478.28" width="12.15" height="8.17" fill="#f5d1d4"/><rect x="142.50" y="486.15" width="12.15" height="8.17" fill="#eca8ae"/><rect x="154.35" y="446.80" width="12.15" height="8.17" fill="#7880be"/><rect x="154.35" y="454.67" width="12.15" height="8.17" fill="#a0a4d3"/><rect x="154.35" y="462.54" width="12.15" height="8.17" fill="#a0a4d3"/><rect x="154.35" y="470.41" width="12.15" height="8.17" fill="#da2828"/><rect x="154.35" y="478.28" width="12.15" height="8.17" fill="#fdf7f8"/><rect x="154.35" y="486.15" width="12.15" height="8.17" fill="#f0babf"/><rect x="166.20" y="446.80" width="12.15" height="8.17" fill="#868cc5"/><rect x="166.20" y="454.67" width="12.15" height="8.17" fill="#727abb"/><rect x="166.20" y="462.54" width="12.15" height="8.17" fill="#a0a4d3"/><rect x="166.20" y="470.41" width="12.15" height="8.17" fill="#dc3a3b"/><rect x="166.20" y="478.28" width="12.15" height="8.17" fill="#f5d1d4"/><rect x="166.20" y="486.15" width="12.15" height="8.17" fill="#eca8ae"/><rect x="178.05" y="446.80" width="12.15" height="8.17" fill="#868cc5"/><rect x="178.05" y="454.67" width="12.15" height="8.17" fill="#7f86c2"/><rect x="178.05" y="462.54" width="12.15" height="8.17" fill="#7880be"/><rect x="178.05" y="470.41" width="12.15" height="8.17" fill="#e0666b"/><rect x="178.05" y="478.28" width="12.15" height="8.17" fill="#e1777e"/><rect x="178.05" y="486.15" width="12.15" height="8.17" fill="#eca8ae"/><rect x="189.90" y="446.80" width="12.15" height="8.17" fill="#646eb4"/><rect x="189.90" y="454.67" width="12.15" height="8.17" fill="#fdf7f8"/><rect x="189.90" y="462.54" width="12.15" height="8.17" fill="#6b74b7"/><rect x="189.90" y="470.41" width="12.15" height="8.17" fill="#e28088"/><rect x="189.90" y="478.28" width="12.15" height="8.17" fill="#dc4245"/><rect x="189.90" y="486.15" width="12.15" height="8.17" fill="#d1d3ec"/><rect x="201.75" y="446.80" width="12.15" height="8.17" fill="#9398cc"/><rect x="201.75" y="454.67" width="12.15" height="8.17" fill="#868cc5"/><rect x="201.75" y="462.54" width="12.15" height="8.17" fill="#868cc5"/><rect x="201.75" y="470.41" width="12.15" height="8.17" fill="#e7949b"/><rect x="201.75" y="478.28" width="12.15" height="8.17" fill="#db3132"/><rect x="201.75" y="486.15" width="12.15" height="8.17" fill="#f8e0e3"/><rect x="213.60" y="446.80" width="12.15" height="8.17" fill="#7f86c2"/><rect x="213.60" y="454.67" width="12.15" height="8.17" fill="#7f86c2"/><rect x="213.60" y="462.54" width="12.15" height="8.17" fill="#7f86c2"/><rect x="213.60" y="470.41" width="12.15" height="8.17" fill="#e28088"/><rect x="213.60" y="478.28" width="12.15" height="8.17" fill="#e0666b"/><rect x="213.60" y="486.15" width="12.15" height="8.17" fill="#e28088"/><rect x="225.45" y="446.80" width="12.15" height="8.17" fill="#9398cc"/><rect x="225.45" y="454.67" width="12.15" height="8.17" fill="#9398cc"/><rect x="225.45" y="462.54" width="12.15" height="8.17" fill="#646eb4"/><rect x="225.45" y="470.41" width="12.15" height="8.17" fill="#e28088"/><rect x="225.45" y="478.28" width="12.15" height="8.17" fill="#e28088"/><rect x="225.45" y="486.15" width="12.15" height="8.17" fill="#e1777e"/><rect x="237.30" y="446.80" width="12.15" height="8.17" fill="#fcf0f1"/><rect x="237.30" y="454.67" width="12.15" height="8.17" fill="#5d68b1"/><rect x="237.30" y="462.54" width="12.15" height="8.17" fill="#868cc5"/><rect x="237.30" y="470.41" width="12.15" height="8.17" fill="#de5458"/><rect x="237.30" y="478.28" width="12.15" height="8.17" fill="#c6c8e7"/><rect x="237.30" y="486.15" width="12.15" height="8.17" fill="#e0666b"/><rect x="249.15" y="446.80" width="12.15" height="8.17" fill="#b9bce0"/><rect x="249.15" y="454.67" width="12.15" height="8.17" fill="#5d68b1"/><rect x="249.15" y="462.54" width="12.15" height="8.17" fill="#acb0d9"/><rect x="249.15" y="470.41" width="12.15" height="8.17" fill="#dc4245"/><rect x="249.15" y="478.28" width="12.15" height="8.17" fill="#dddef1"/><rect x="249.15" y="486.15" width="12.15" height="8.17" fill="#e06e75"/><rect x="261.00" y="446.80" width="12.15" height="8.17" fill="#868cc5"/><rect x="261.00" y="454.67" width="12.15" height="8.17" fill="#868cc5"/><rect x="261.00" y="462.54" width="12.15" height="8.17" fill="#7f86c2"/><rect x="261.00" y="470.41" width="12.15" height="8.17" fill="#eeb2b8"/><rect x="261.00" y="478.28" width="12.15" height="8.17" fill="#e1777e"/><rect x="261.00" y="486.15" width="12.15" height="8.17" fill="#dd4b4e"/><rect x="272.85" y="446.80" width="12.15" height="8.17" fill="#868cc5"/><rect x="272.85" y="454.67" width="12.15" height="8.17" fill="#868cc5"/><rect x="272.85" y="462.54" width="12.15" height="8.17" fill="#868cc5"/><rect x="272.85" y="470.41" width="12.15" height="8.17" fill="#e28088"/><rect x="272.85" y="478.28" width="12.15" height="8.17" fill="#dd4b4e"/><rect x="272.85" y="486.15" width="12.15" height="8.17" fill="#f5d1d4"/><rect x="284.70" y="446.80" width="12.15" height="8.17" fill="#a0a4d3"/><rect x="284.70" y="454.67" width="12.15" height="8.17" fill="#727abb"/><rect x="284.70" y="462.54" width="12.15" height="8.17" fill="#b9bce0"/><rect x="284.70" y="470.41" width="12.15" height="8.17" fill="#da2828"/><rect x="284.70" y="478.28" width="12.15" height="8.17" fill="#f1c1c6"/><rect x="284.70" y="486.15" width="12.15" height="8.17" fill="#f8e0e3"/><rect x="296.55" y="446.80" width="12.15" height="8.17" fill="#c6c8e7"/><rect x="296.55" y="454.67" width="12.15" height="8.17" fill="#7f86c2"/><rect x="296.55" y="462.54" width="12.15" height="8.17" fill="#c6c8e7"/><rect x="296.55" y="470.41" width="12.15" height="8.17" fill="#da2828"/><rect x="296.55" y="478.28" width="12.15" height="8.17" fill="#eca8ae"/><rect x="296.55" y="486.15" width="12.15" height="8.17" fill="#b9bce0"/><rect x="308.40" y="446.80" width="12.15" height="8.17" fill="#9398cc"/><rect x="308.40" y="454.67" width="12.15" height="8.17" fill="#727abb"/><rect x="308.40" y="462.54" width="12.15" height="8.17" fill="#b9bce0"/><rect x="308.40" y="470.41" width="12.15" height="8.17" fill="#e48a92"/><rect x="308.40" y="478.28" width="12.15" height="8.17" fill="#dc3a3b"/><rect x="308.40" y="486.15" width="12.15" height="8.17" fill="#ffffff"/><rect x="320.25" y="446.80" width="12.15" height="8.17" fill="#868cc5"/><rect x="320.25" y="454.67" width="12.15" height="8.17" fill="#a0a4d3"/><rect x="320.25" y="462.54" width="12.15" height="8.17" fill="#6b74b7"/><rect x="320.25" y="470.41" width="12.15" height="8.17" fill="#e06e75"/><rect x="320.25" y="478.28" width="12.15" height="8.17" fill="#dd4b4e"/><rect x="320.25" y="486.15" width="12.15" height="8.17" fill="#f5d1d4"/><rect x="332.10" y="446.80" width="12.15" height="8.17" fill="#868cc5"/><rect x="332.10" y="454.67" width="12.15" height="8.17" fill="#868cc5"/><rect x="332.10" y="462.54" width="12.15" height="8.17" fill="#868cc5"/><rect x="332.10" y="470.41" width="12.15" height="8.17" fill="#df5d62"/><rect x="332.10" y="478.28" width="12.15" height="8.17" fill="#dd4b4e"/><rect x="332.10" y="486.15" width="12.15" height="8.17" fill="#ffffff"/><rect x="343.95" y="446.80" width="12.15" height="8.17" fill="#646eb4"/><rect x="343.95" y="454.67" width="12.15" height="8.17" fill="#acb0d9"/><rect x="343.95" y="462.54" width="12.15" height="8.17" fill="#b9bce0"/><rect x="343.95" y="470.41" width="12.15" height="8.17" fill="#dc3a3b"/><rect x="343.95" y="478.28" width="12.15" height="8.17" fill="#e8e9f5"/><rect x="343.95" y="486.15" width="12.15" height="8.17" fill="#e28088"/><rect x="355.80" y="446.80" width="12.15" height="8.17" fill="#b9bce0"/><rect x="355.80" y="454.67" width="12.15" height="8.17" fill="#acb0d9"/><rect x="355.80" y="462.54" width="12.15" height="8.17" fill="#acb0d9"/><rect x="355.80" y="470.41" width="12.15" height="8.17" fill="#e99ea5"/><rect x="355.80" y="478.28" width="12.15" height="8.17" fill="#acb0d9"/><rect x="355.80" y="486.15" width="12.15" height="8.17" fill="#da2828"/><rect x="367.65" y="446.80" width="12.15" height="8.17" fill="#868cc5"/><rect x="367.65" y="454.67" width="12.15" height="8.17" fill="#9398cc"/><rect x="367.65" y="462.54" width="12.15" height="8.17" fill="#a0a4d3"/><rect x="367.65" y="470.41" width="12.15" height="8.17" fill="#e99ea5"/><rect x="367.65" y="478.28" width="12.15" height="8.17" fill="#db3132"/><rect x="367.65" y="486.15" width="12.15" height="8.17" fill="#ffffff"/><rect x="379.50" y="446.80" width="12.15" height="8.17" fill="#c6c8e7"/><rect x="379.50" y="454.67" width="12.15" height="8.17" fill="#9398cc"/><rect x="379.50" y="462.54" width="12.15" height="8.17" fill="#6b74b7"/><rect x="379.50" y="470.41" width="12.15" height="8.17" fill="#db3132"/><rect x="379.50" y="478.28" width="12.15" height="8.17" fill="#fcf0f1"/><rect x="379.50" y="486.15" width="12.15" height="8.17" fill="#f1c1c6"/><rect x="391.35" y="446.80" width="12.15" height="8.17" fill="#868cc5"/><rect x="391.35" y="454.67" width="12.15" height="8.17" fill="#868cc5"/><rect x="391.35" y="462.54" width="12.15" height="8.17" fill="#868cc5"/><rect x="391.35" y="470.41" width="12.15" height="8.17" fill="#dc3a3b"/><rect x="391.35" y="478.28" width="12.15" height="8.17" fill="#f1c1c6"/><rect x="391.35" y="486.15" width="12.15" height="8.17" fill="#f1c1c6"/><rect x="403.20" y="446.80" width="12.15" height="8.17" fill="#9398cc"/><rect x="403.20" y="454.67" width="12.15" height="8.17" fill="#868cc5"/><rect x="403.20" y="462.54" width="12.15" height="8.17" fill="#a0a4d3"/><rect x="403.20" y="470.41" width="12.15" height="8.17" fill="#e1777e"/><rect x="403.20" y="478.28" width="12.15" height="8.17" fill="#db3132"/><rect x="403.20" y="486.15" width="12.15" height="8.17" fill="#e8e9f5"/><rect x="415.05" y="446.80" width="12.15" height="8.17" fill="#ffffff"/><rect x="415.05" y="454.67" width="12.15" height="8.17" fill="#6b74b7"/><rect x="415.05" y="462.54" width="12.15" height="8.17" fill="#7f86c2"/><rect x="415.05" y="470.41" width="12.15" height="8.17" fill="#de5458"/><rect x="415.05" y="478.28" width="12.15" height="8.17" fill="#b9bce0"/><rect x="415.05" y="486.15" width="12.15" height="8.17" fill="#e0666b"/><rect x="426.90" y="446.80" width="12.15" height="8.17" fill="#9398cc"/><rect x="426.90" y="454.67" width="12.15" height="8.17" fill="#7f86c2"/><rect x="426.90" y="462.54" width="12.15" height="8.17" fill="#868cc5"/><rect x="426.90" y="470.41" width="12.15" height="8.17" fill="#dc4245"/><rect x="426.90" y="478.28" width="12.15" height="8.17" fill="#eca8ae"/><rect x="426.90" y="486.15" width="12.15" height="8.17" fill="#f5d1d4"/><rect x="438.75" y="446.80" width="12.15" height="8.17" fill="#9398cc"/><rect x="438.75" y="454.67" width="12.15" height="8.17" fill="#b9bce0"/><rect x="438.75" y="462.54" width="12.15" height="8.17" fill="#dddef1"/><rect x="438.75" y="470.41" width="12.15" height="8.17" fill="#db3132"/><rect x="438.75" y="478.28" width="12.15" height="8.17" fill="#e7949b"/><rect x="438.75" y="486.15" width="12.15" height="8.17" fill="#868cc5"/><rect x="450.60" y="446.80" width="12.15" height="8.17" fill="#7f86c2"/><rect x="450.60" y="454.67" width="12.15" height="8.17" fill="#a0a4d3"/><rect x="450.60" y="462.54" width="12.15" height="8.17" fill="#c6c8e7"/><rect x="450.60" y="470.41" width="12.15" height="8.17" fill="#da2828"/><rect x="450.60" y="478.28" width="12.15" height="8.17" fill="#f8e0e3"/><rect x="450.60" y="486.15" width="12.15" height="8.17" fill="#ffffff"/><rect x="462.45" y="446.80" width="12.15" height="8.17" fill="#868cc5"/><rect x="462.45" y="454.67" width="12.15" height="8.17" fill="#7880be"/><rect x="462.45" y="462.54" width="12.15" height="8.17" fill="#868cc5"/><rect x="462.45" y="470.41" width="12.15" height="8.17" fill="#dd474a"/><rect x="462.45" y="478.28" width="12.15" height="8.17" fill="#eca8ae"/><rect x="462.45" y="486.15" width="12.15" height="8.17" fill="#f1c1c6"/><rect x="474.30" y="446.80" width="12.15" height="8.17" fill="#b9bce0"/><rect x="474.30" y="454.67" width="12.15" height="8.17" fill="#7880be"/><rect x="474.30" y="462.54" width="12.15" height="8.17" fill="#7880be"/><rect x="474.30" y="470.41" width="12.15" height="8.17" fill="#dc4245"/><rect x="474.30" y="478.28" width="12.15" height="8.17" fill="#eca8ae"/><rect x="474.30" y="486.15" width="12.15" height="8.17" fill="#f6d8dc"/><rect x="486.15" y="446.80" width="12.15" height="8.17" fill="#b9bce0"/><rect x="486.15" y="454.67" width="12.15" height="8.17" fill="#b9bce0"/><rect x="486.15" y="462.54" width="12.15" height="8.17" fill="#b9bce0"/><rect x="486.15" y="470.41" width="12.15" height="8.17" fill="#da2828"/><rect x="486.15" y="478.28" width="12.15" height="8.17" fill="#e8e9f5"/><rect x="486.15" y="486.15" width="12.15" height="8.17" fill="#ffffff"/><rect x="498.00" y="446.80" width="12.15" height="8.17" fill="#acb0d9"/><rect x="498.00" y="454.67" width="12.15" height="8.17" fill="#5d68b1"/><rect x="498.00" y="462.54" width="12.15" height="8.17" fill="#c6c8e7"/><rect x="498.00" y="470.41" width="12.15" height="8.17" fill="#e99ea5"/><rect x="498.00" y="478.28" width="12.15" height="8.17" fill="#dc3a3b"/><rect x="498.00" y="486.15" width="12.15" height="8.17" fill="#ffffff"/><rect x="509.85" y="446.80" width="12.15" height="8.17" fill="#b9bce0"/><rect x="509.85" y="454.67" width="12.15" height="8.17" fill="#9398cc"/><rect x="509.85" y="462.54" width="12.15" height="8.17" fill="#a0a4d3"/><rect x="509.85" y="470.41" width="12.15" height="8.17" fill="#eca8ae"/><rect x="509.85" y="478.28" width="12.15" height="8.17" fill="#e8e9f5"/><rect x="509.85" y="486.15" width="12.15" height="8.17" fill="#da2828"/><rect x="521.70" y="446.80" width="12.15" height="8.17" fill="#c6c8e7"/><rect x="521.70" y="454.67" width="12.15" height="8.17" fill="#b9bce0"/><rect x="521.70" y="462.54" width="12.15" height="8.17" fill="#a0a4d3"/><rect x="521.70" y="470.41" width="12.15" height="8.17" fill="#da2828"/><rect x="521.70" y="478.28" width="12.15" height="8.17" fill="#c6c8e7"/><rect x="521.70" y="486.15" width="12.15" height="8.17" fill="#eca8ae"/><rect x="533.55" y="446.80" width="12.15" height="8.17" fill="#acb0d9"/><rect x="533.55" y="454.67" width="12.15" height="8.17" fill="#9398cc"/><rect x="533.55" y="462.54" width="12.15" height="8.17" fill="#9398cc"/><rect x="533.55" y="470.41" width="12.15" height="8.17" fill="#dd4b4e"/><rect x="533.55" y="478.28" width="12.15" height="8.17" fill="#f9fafd"/><rect x="533.55" y="486.15" width="12.15" height="8.17" fill="#e1777e"/><rect x="545.40" y="446.80" width="12.15" height="8.17" fill="#cccee9"/><rect x="545.40" y="454.67" width="12.15" height="8.17" fill="#727abb"/><rect x="545.40" y="462.54" width="12.15" height="8.17" fill="#7f86c2"/><rect x="545.40" y="470.41" width="12.15" height="8.17" fill="#dc3e40"/><rect x="545.40" y="478.28" width="12.15" height="8.17" fill="#f8e0e3"/><rect x="545.40" y="486.15" width="12.15" height="8.17" fill="#edadb3"/><rect x="557.25" y="446.80" width="12.15" height="8.17" fill="#eeeef8"/><rect x="557.25" y="454.67" width="12.15" height="8.17" fill="#5d68b1"/><rect x="557.25" y="462.54" width="12.15" height="8.17" fill="#5d68b1"/><rect x="557.25" y="470.41" width="12.15" height="8.17" fill="#e06e75"/><rect x="557.25" y="478.28" width="12.15" height="8.17" fill="#f5d1d4"/><rect x="557.25" y="486.15" width="12.15" height="8.17" fill="#e0666b"/><rect x="569.10" y="446.80" width="12.15" height="8.17" fill="#a0a4d3"/><rect x="569.10" y="454.67" width="12.15" height="8.17" fill="#727abb"/><rect x="569.10" y="462.54" width="12.15" height="8.17" fill="#7f86c2"/><rect x="569.10" y="470.41" width="12.15" height="8.17" fill="#dc4245"/><rect x="569.10" y="478.28" width="12.15" height="8.17" fill="#eca8ae"/><rect x="569.10" y="486.15" width="12.15" height="8.17" fill="#eca8ae"/><rect x="580.95" y="446.80" width="12.15" height="8.17" fill="#5d68b1"/><rect x="580.95" y="454.67" width="12.15" height="8.17" fill="#c6c8e7"/><rect x="580.95" y="462.54" width="12.15" height="8.17" fill="#7f86c2"/><rect x="580.95" y="470.41" width="12.15" height="8.17" fill="#eca8ae"/><rect x="580.95" y="478.28" width="12.15" height="8.17" fill="#dc4245"/><rect x="580.95" y="486.15" width="12.15" height="8.17" fill="#eca8ae"/><rect x="592.80" y="446.80" width="12.15" height="8.17" fill="#9398cc"/><rect x="592.80" y="454.67" width="12.15" height="8.17" fill="#7f86c2"/><rect x="592.80" y="462.54" width="12.15" height="8.17" fill="#7880be"/><rect x="592.80" y="470.41" width="12.15" height="8.17" fill="#dd4b4e"/><rect x="592.80" y="478.28" width="12.15" height="8.17" fill="#f1c1c6"/><rect x="592.80" y="486.15" width="12.15" height="8.17" fill="#e28088"/><rect x="604.65" y="446.80" width="12.15" height="8.17" fill="#d1d3ec"/><rect x="604.65" y="454.67" width="12.15" height="8.17" fill="#a0a4d3"/><rect x="604.65" y="462.54" width="12.15" height="8.17" fill="#6b74b7"/><rect x="604.65" y="470.41" width="12.15" height="8.17" fill="#da2828"/><rect x="604.65" y="478.28" width="12.15" height="8.17" fill="#f4f4fa"/><rect x="604.65" y="486.15" width="12.15" height="8.17" fill="#f5d1d4"/><rect x="616.50" y="446.80" width="12.15" height="8.17" fill="#9398cc"/><rect x="616.50" y="454.67" width="12.15" height="8.17" fill="#7f86c2"/><rect x="616.50" y="462.54" width="12.15" height="8.17" fill="#acb0d9"/><rect x="616.50" y="470.41" width="12.15" height="8.17" fill="#da2828"/><rect x="616.50" y="478.28" width="12.15" height="8.17" fill="#f8e0e3"/><rect x="616.50" y="486.15" width="12.15" height="8.17" fill="#eeb2b8"/><rect x="628.35" y="446.80" width="12.15" height="8.17" fill="#646eb4"/><rect x="628.35" y="454.67" width="12.15" height="8.17" fill="#e2e4f3"/><rect x="628.35" y="462.54" width="12.15" height="8.17" fill="#868cc5"/><rect x="628.35" y="470.41" width="12.15" height="8.17" fill="#fdf7f8"/><rect x="628.35" y="478.28" width="12.15" height="8.17" fill="#dc4245"/><rect x="628.35" y="486.15" width="12.15" height="8.17" fill="#e7949b"/><rect x="640.20" y="446.80" width="12.15" height="8.17" fill="#fefafb"/><rect x="640.20" y="454.67" width="12.15" height="8.17" fill="#5d68b1"/><rect x="640.20" y="462.54" width="12.15" height="8.17" fill="#868cc5"/><rect x="640.20" y="470.41" width="12.15" height="8.17" fill="#eca8ae"/><rect x="640.20" y="478.28" width="12.15" height="8.17" fill="#dc3a3b"/><rect x="640.20" y="486.15" width="12.15" height="8.17" fill="#f4f4fa"/><rect x="652.05" y="446.80" width="12.15" height="8.17" fill="#c6c8e7"/><rect x="652.05" y="454.67" width="12.15" height="8.17" fill="#5d68b1"/><rect x="652.05" y="462.54" width="12.15" height="8.17" fill="#9398cc"/><rect x="652.05" y="470.41" width="12.15" height="8.17" fill="#dc4245"/><rect x="652.05" y="478.28" width="12.15" height="8.17" fill="#f1c1c6"/><rect x="652.05" y="486.15" width="12.15" height="8.17" fill="#eca8ae"/></g>
<rect x="44.8" y="446.8" width="1.3" height="23.61" fill="#5d8fd2" />
<rect x="44.8" y="470.41" width="1.3" height="23.61" fill="#e8636a" />
<text x="55.42" y="445" font-size="8.3" font-style="italic" transform="rotate(-90 55.42 445)" >Aars</text>
<text x="67.27" y="445" font-size="8.3" font-style="italic" transform="rotate(-90 67.27 445)" >Alox15</text>
<text x="79.12" y="445" font-size="8.3" font-style="italic" transform="rotate(-90 79.12 445)" >Anxa1</text>
<text x="90.98" y="445" font-size="8.3" font-style="italic" transform="rotate(-90 90.98 445)" >Asns</text>
<text x="102.83" y="445" font-size="8.3" font-style="italic" transform="rotate(-90 102.83 445)" >Atf3</text>
<text x="114.67" y="445" font-size="8.3" font-style="italic" transform="rotate(-90 114.67 445)" >Atf4</text>
<text x="126.52" y="445" font-size="8.3" font-style="italic" transform="rotate(-90 126.52 445)" >Chac1</text>
<text x="138.38" y="445" font-size="8.3" font-style="italic" transform="rotate(-90 138.38 445)" >Cox8c</text>
<text x="150.23" y="445" font-size="8.3" font-style="italic" transform="rotate(-90 150.23 445)" >Ddit3</text>
<text x="162.08" y="445" font-size="8.3" font-style="italic" transform="rotate(-90 162.08 445)" >Dhcr24</text>
<text x="173.93" y="445" font-size="8.3" font-style="italic" transform="rotate(-90 173.93 445)" >Dnajb14</text>
<text x="185.78" y="445" font-size="8.3" font-style="italic" transform="rotate(-90 185.78 445)" >Eif4ebp1</text>
<text x="197.62" y="445" font-size="8.3" font-style="italic" transform="rotate(-90 197.62 445)" >Etfdh</text>
<text x="209.48" y="445" font-size="8.3" font-style="italic" transform="rotate(-90 209.48 445)" >Fbln5</text>
<text x="221.32" y="445" font-size="8.3" font-style="italic" transform="rotate(-90 221.32 445)" >Fgf21</text>
<text x="233.18" y="445" font-size="8.3" font-style="italic" transform="rotate(-90 233.18 445)" >Grb10</text>
<text x="245.03" y="445" font-size="8.3" font-style="italic" transform="rotate(-90 245.03 445)" >Gstm1</text>
<text x="256.88" y="445" font-size="8.3" font-style="italic" transform="rotate(-90 256.88 445)" >Gstm2</text>
<text x="268.73" y="445" font-size="8.3" font-style="italic" transform="rotate(-90 268.73 445)" >Herpud1</text>
<text x="280.57" y="445" font-size="8.3" font-style="italic" transform="rotate(-90 280.57 445)" >Inhbe</text>
<text x="292.43" y="445" font-size="8.3" font-style="italic" transform="rotate(-90 292.43 445)" >Loxl2</text>
<text x="304.28" y="445" font-size="8.3" font-style="italic" transform="rotate(-90 304.28 445)" >Mrps26</text>
<text x="316.12" y="445" font-size="8.3" font-style="italic" transform="rotate(-90 316.12 445)" >Mthfd2</text>
<text x="327.97" y="445" font-size="8.3" font-style="italic" transform="rotate(-90 327.97 445)" >Pls3</text>
<text x="339.82" y="445" font-size="8.3" font-style="italic" transform="rotate(-90 339.82 445)" >Psat1</text>
<text x="351.68" y="445" font-size="8.3" font-style="italic" transform="rotate(-90 351.68 445)" >Psme1</text>
<text x="363.52" y="445" font-size="8.3" font-style="italic" transform="rotate(-90 363.52 445)" >Rasgrf2</text>
<text x="375.38" y="445" font-size="8.3" font-style="italic" transform="rotate(-90 375.38 445)" >Shmt2</text>
<text x="387.22" y="445" font-size="8.3" font-style="italic" transform="rotate(-90 387.22 445)" >Slc7a1</text>
<text x="399.07" y="445" font-size="8.3" font-style="italic" transform="rotate(-90 399.07 445)" >Slc7a3</text>
<text x="410.93" y="445" font-size="8.3" font-style="italic" transform="rotate(-90 410.93 445)" >Trib3</text>
<text x="422.77" y="445" font-size="8.3" font-style="italic" transform="rotate(-90 422.77 445)" >Ucp2</text>
<text x="434.62" y="445" font-size="8.3" font-style="italic" transform="rotate(-90 434.62 445)" >Vldlr</text>
<text x="446.47" y="445" font-size="8.3" font-style="italic" transform="rotate(-90 446.47 445)" >Card14</text>
<text x="458.32" y="445" font-size="8.3" font-style="italic" transform="rotate(-90 458.32 445)" >Cd5l</text>
<text x="470.18" y="445" font-size="8.3" font-style="italic" transform="rotate(-90 470.18 445)" >Cxcr2</text>
<text x="482.02" y="445" font-size="8.3" font-style="italic" transform="rotate(-90 482.02 445)" >Cyld</text>
<text x="493.88" y="445" font-size="8.3" font-style="italic" transform="rotate(-90 493.88 445)" >G0s2</text>
<text x="505.72" y="445" font-size="8.3" font-style="italic" transform="rotate(-90 505.72 445)" >Gsdma3</text>
<text x="517.57" y="445" font-size="8.3" font-style="italic" transform="rotate(-90 517.57 445)" >Hmox1</text>
<text x="529.42" y="445" font-size="8.3" font-style="italic" transform="rotate(-90 529.42 445)" >Ifnar2</text>
<text x="541.27" y="445" font-size="8.3" font-style="italic" transform="rotate(-90 541.27 445)" >Il18</text>
<text x="553.12" y="445" font-size="8.3" font-style="italic" transform="rotate(-90 553.12 445)" >Mpv17l</text>
<text x="564.98" y="445" font-size="8.3" font-style="italic" transform="rotate(-90 564.98 445)" >Prune2</text>
<text x="576.82" y="445" font-size="8.3" font-style="italic" transform="rotate(-90 576.82 445)" >Pycard</text>
<text x="588.67" y="445" font-size="8.3" font-style="italic" transform="rotate(-90 588.67 445)" >Pycr1</text>
<text x="600.52" y="445" font-size="8.3" font-style="italic" transform="rotate(-90 600.52 445)" >Tbc1d24</text>
<text x="612.38" y="445" font-size="8.3" font-style="italic" transform="rotate(-90 612.38 445)" >Traf3</text>
<text x="624.23" y="445" font-size="8.3" font-style="italic" transform="rotate(-90 624.23 445)" >Trpm2</text>
<text x="636.07" y="445" font-size="8.3" font-style="italic" transform="rotate(-90 636.07 445)" >Wdr35</text>
<text x="647.92" y="445" font-size="8.3" font-style="italic" transform="rotate(-90 647.92 445)" >Wnt4</text>
<text x="659.77" y="445" font-size="8.3" font-style="italic" transform="rotate(-90 659.77 445)" >Xaf1</text>
<line x1="47.7" y1="496.1" x2="437.95" y2="496.1" stroke="#222" stroke-width="0.9" />
<line x1="439.55" y1="496.1" x2="663.9" y2="496.1" stroke="#222" stroke-width="0.9" />
<text x="214.6" y="504.72" font-size="8.1" text-anchor="middle" >Integrated stress response (ISR)</text>
<text x="553.9" y="504.62" font-size="8.1" text-anchor="middle" >Cell apoptosis</text>
<rect x="666.4" y="421.4" width="4.3" height="68.5" fill="url(#gH)"/>
<text x="672.5" y="430.28" font-size="8" >2</text>
<text x="672.5" y="445.18" font-size="8" >1</text>
<text x="672.5" y="459.08" font-size="8" >0</text>
<text x="672.5" y="474.88" font-size="8" >-1</text>
<text x="672.5" y="489.48" font-size="8" >-2</text>
<text transform="translate(40.6 466.4) rotate(-45)" font-size="8.2" text-anchor="middle">WT</text>
<text transform="translate(46.4 480.7) rotate(-45)" font-size="8.2" text-anchor="end"><tspan font-style="italic">Eif2s2</tspan>-ZcKO</text>
</svg>
</body></html>
